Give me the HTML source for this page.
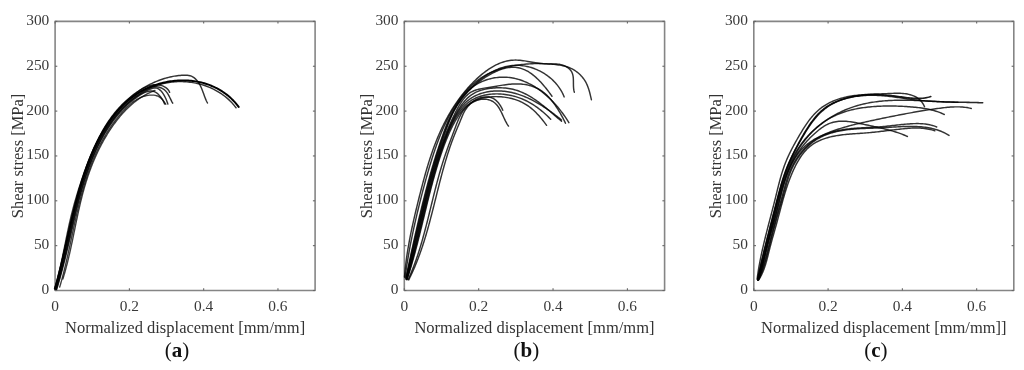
<!DOCTYPE html>
<html><head><meta charset="utf-8"><style>
html,body{margin:0;padding:0;background:#fff;width:1024px;height:370px;overflow:hidden}
svg{display:block;will-change:transform}
.t{font-family:"Liberation Serif", serif;font-size:15.4px;fill:#3a3a3a}
.l{font-family:"Liberation Serif", serif;font-size:16.5px;fill:#333}
.c{font-family:"Liberation Serif", serif;font-size:21px;fill:#111}
</style></head><body>
<svg width="1024" height="370" viewBox="0 0 1024 370">
<rect width="1024" height="370" fill="#fff"/>
<g>
<rect x="55.10" y="21.40" width="260.00" height="269.10" fill="none" stroke="#858585" stroke-width="1.6" stroke-linejoin="round"/>
<line x1="55.10" y1="290.50" x2="57.30" y2="290.50" stroke="#666" stroke-width="1.1"/>
<line x1="315.10" y1="290.50" x2="312.90" y2="290.50" stroke="#666" stroke-width="1.1"/>
<text x="49.30" y="293.90" text-anchor="end" class="t">0</text>
<line x1="55.10" y1="245.65" x2="57.30" y2="245.65" stroke="#666" stroke-width="1.1"/>
<line x1="315.10" y1="245.65" x2="312.90" y2="245.65" stroke="#666" stroke-width="1.1"/>
<text x="49.30" y="249.05" text-anchor="end" class="t">50</text>
<line x1="55.10" y1="200.80" x2="57.30" y2="200.80" stroke="#666" stroke-width="1.1"/>
<line x1="315.10" y1="200.80" x2="312.90" y2="200.80" stroke="#666" stroke-width="1.1"/>
<text x="49.30" y="204.20" text-anchor="end" class="t">100</text>
<line x1="55.10" y1="155.95" x2="57.30" y2="155.95" stroke="#666" stroke-width="1.1"/>
<line x1="315.10" y1="155.95" x2="312.90" y2="155.95" stroke="#666" stroke-width="1.1"/>
<text x="49.30" y="159.35" text-anchor="end" class="t">150</text>
<line x1="55.10" y1="111.10" x2="57.30" y2="111.10" stroke="#666" stroke-width="1.1"/>
<line x1="315.10" y1="111.10" x2="312.90" y2="111.10" stroke="#666" stroke-width="1.1"/>
<text x="49.30" y="114.50" text-anchor="end" class="t">200</text>
<line x1="55.10" y1="66.25" x2="57.30" y2="66.25" stroke="#666" stroke-width="1.1"/>
<line x1="315.10" y1="66.25" x2="312.90" y2="66.25" stroke="#666" stroke-width="1.1"/>
<text x="49.30" y="69.65" text-anchor="end" class="t">250</text>
<line x1="55.10" y1="21.40" x2="57.30" y2="21.40" stroke="#666" stroke-width="1.1"/>
<line x1="315.10" y1="21.40" x2="312.90" y2="21.40" stroke="#666" stroke-width="1.1"/>
<text x="49.30" y="24.80" text-anchor="end" class="t">300</text>
<line x1="55.10" y1="290.50" x2="55.10" y2="288.30" stroke="#666" stroke-width="1.1"/>
<line x1="55.10" y1="21.40" x2="55.10" y2="23.60" stroke="#666" stroke-width="1.1"/>
<text x="55.10" y="310.6" text-anchor="middle" class="t">0</text>
<line x1="129.39" y1="290.50" x2="129.39" y2="288.30" stroke="#666" stroke-width="1.1"/>
<line x1="129.39" y1="21.40" x2="129.39" y2="23.60" stroke="#666" stroke-width="1.1"/>
<text x="129.39" y="310.6" text-anchor="middle" class="t">0.2</text>
<line x1="203.67" y1="290.50" x2="203.67" y2="288.30" stroke="#666" stroke-width="1.1"/>
<line x1="203.67" y1="21.40" x2="203.67" y2="23.60" stroke="#666" stroke-width="1.1"/>
<text x="203.67" y="310.6" text-anchor="middle" class="t">0.4</text>
<line x1="277.96" y1="290.50" x2="277.96" y2="288.30" stroke="#666" stroke-width="1.1"/>
<line x1="277.96" y1="21.40" x2="277.96" y2="23.60" stroke="#666" stroke-width="1.1"/>
<text x="277.96" y="310.6" text-anchor="middle" class="t">0.6</text>
<text x="185.10" y="332.6" text-anchor="middle" class="l">Normalized displacement [mm/mm]</text>
<text transform="translate(22.70,155.95) rotate(-90)" text-anchor="middle" class="l">Shear stress [MPa]</text>
<text x="177.10" y="357" text-anchor="middle" class="c">(<tspan font-weight="bold">a</tspan>)</text>
<rect x="404.30" y="21.40" width="260.30" height="269.10" fill="none" stroke="#858585" stroke-width="1.6" stroke-linejoin="round"/>
<line x1="404.30" y1="290.50" x2="406.50" y2="290.50" stroke="#666" stroke-width="1.1"/>
<line x1="664.60" y1="290.50" x2="662.40" y2="290.50" stroke="#666" stroke-width="1.1"/>
<text x="398.50" y="293.90" text-anchor="end" class="t">0</text>
<line x1="404.30" y1="245.65" x2="406.50" y2="245.65" stroke="#666" stroke-width="1.1"/>
<line x1="664.60" y1="245.65" x2="662.40" y2="245.65" stroke="#666" stroke-width="1.1"/>
<text x="398.50" y="249.05" text-anchor="end" class="t">50</text>
<line x1="404.30" y1="200.80" x2="406.50" y2="200.80" stroke="#666" stroke-width="1.1"/>
<line x1="664.60" y1="200.80" x2="662.40" y2="200.80" stroke="#666" stroke-width="1.1"/>
<text x="398.50" y="204.20" text-anchor="end" class="t">100</text>
<line x1="404.30" y1="155.95" x2="406.50" y2="155.95" stroke="#666" stroke-width="1.1"/>
<line x1="664.60" y1="155.95" x2="662.40" y2="155.95" stroke="#666" stroke-width="1.1"/>
<text x="398.50" y="159.35" text-anchor="end" class="t">150</text>
<line x1="404.30" y1="111.10" x2="406.50" y2="111.10" stroke="#666" stroke-width="1.1"/>
<line x1="664.60" y1="111.10" x2="662.40" y2="111.10" stroke="#666" stroke-width="1.1"/>
<text x="398.50" y="114.50" text-anchor="end" class="t">200</text>
<line x1="404.30" y1="66.25" x2="406.50" y2="66.25" stroke="#666" stroke-width="1.1"/>
<line x1="664.60" y1="66.25" x2="662.40" y2="66.25" stroke="#666" stroke-width="1.1"/>
<text x="398.50" y="69.65" text-anchor="end" class="t">250</text>
<line x1="404.30" y1="21.40" x2="406.50" y2="21.40" stroke="#666" stroke-width="1.1"/>
<line x1="664.60" y1="21.40" x2="662.40" y2="21.40" stroke="#666" stroke-width="1.1"/>
<text x="398.50" y="24.80" text-anchor="end" class="t">300</text>
<line x1="404.30" y1="290.50" x2="404.30" y2="288.30" stroke="#666" stroke-width="1.1"/>
<line x1="404.30" y1="21.40" x2="404.30" y2="23.60" stroke="#666" stroke-width="1.1"/>
<text x="404.30" y="310.6" text-anchor="middle" class="t">0</text>
<line x1="478.67" y1="290.50" x2="478.67" y2="288.30" stroke="#666" stroke-width="1.1"/>
<line x1="478.67" y1="21.40" x2="478.67" y2="23.60" stroke="#666" stroke-width="1.1"/>
<text x="478.67" y="310.6" text-anchor="middle" class="t">0.2</text>
<line x1="553.04" y1="290.50" x2="553.04" y2="288.30" stroke="#666" stroke-width="1.1"/>
<line x1="553.04" y1="21.40" x2="553.04" y2="23.60" stroke="#666" stroke-width="1.1"/>
<text x="553.04" y="310.6" text-anchor="middle" class="t">0.4</text>
<line x1="627.41" y1="290.50" x2="627.41" y2="288.30" stroke="#666" stroke-width="1.1"/>
<line x1="627.41" y1="21.40" x2="627.41" y2="23.60" stroke="#666" stroke-width="1.1"/>
<text x="627.41" y="310.6" text-anchor="middle" class="t">0.6</text>
<text x="534.45" y="332.6" text-anchor="middle" class="l">Normalized displacement [mm/mm]</text>
<text transform="translate(371.90,155.95) rotate(-90)" text-anchor="middle" class="l">Shear stress [MPa]</text>
<text x="526.45" y="357" text-anchor="middle" class="c">(<tspan font-weight="bold">b</tspan>)</text>
<rect x="753.80" y="21.40" width="260.00" height="269.10" fill="none" stroke="#858585" stroke-width="1.6" stroke-linejoin="round"/>
<line x1="753.80" y1="290.50" x2="756.00" y2="290.50" stroke="#666" stroke-width="1.1"/>
<line x1="1013.80" y1="290.50" x2="1011.60" y2="290.50" stroke="#666" stroke-width="1.1"/>
<text x="748.00" y="293.90" text-anchor="end" class="t">0</text>
<line x1="753.80" y1="245.65" x2="756.00" y2="245.65" stroke="#666" stroke-width="1.1"/>
<line x1="1013.80" y1="245.65" x2="1011.60" y2="245.65" stroke="#666" stroke-width="1.1"/>
<text x="748.00" y="249.05" text-anchor="end" class="t">50</text>
<line x1="753.80" y1="200.80" x2="756.00" y2="200.80" stroke="#666" stroke-width="1.1"/>
<line x1="1013.80" y1="200.80" x2="1011.60" y2="200.80" stroke="#666" stroke-width="1.1"/>
<text x="748.00" y="204.20" text-anchor="end" class="t">100</text>
<line x1="753.80" y1="155.95" x2="756.00" y2="155.95" stroke="#666" stroke-width="1.1"/>
<line x1="1013.80" y1="155.95" x2="1011.60" y2="155.95" stroke="#666" stroke-width="1.1"/>
<text x="748.00" y="159.35" text-anchor="end" class="t">150</text>
<line x1="753.80" y1="111.10" x2="756.00" y2="111.10" stroke="#666" stroke-width="1.1"/>
<line x1="1013.80" y1="111.10" x2="1011.60" y2="111.10" stroke="#666" stroke-width="1.1"/>
<text x="748.00" y="114.50" text-anchor="end" class="t">200</text>
<line x1="753.80" y1="66.25" x2="756.00" y2="66.25" stroke="#666" stroke-width="1.1"/>
<line x1="1013.80" y1="66.25" x2="1011.60" y2="66.25" stroke="#666" stroke-width="1.1"/>
<text x="748.00" y="69.65" text-anchor="end" class="t">250</text>
<line x1="753.80" y1="21.40" x2="756.00" y2="21.40" stroke="#666" stroke-width="1.1"/>
<line x1="1013.80" y1="21.40" x2="1011.60" y2="21.40" stroke="#666" stroke-width="1.1"/>
<text x="748.00" y="24.80" text-anchor="end" class="t">300</text>
<line x1="753.80" y1="290.50" x2="753.80" y2="288.30" stroke="#666" stroke-width="1.1"/>
<line x1="753.80" y1="21.40" x2="753.80" y2="23.60" stroke="#666" stroke-width="1.1"/>
<text x="753.80" y="310.6" text-anchor="middle" class="t">0</text>
<line x1="828.09" y1="290.50" x2="828.09" y2="288.30" stroke="#666" stroke-width="1.1"/>
<line x1="828.09" y1="21.40" x2="828.09" y2="23.60" stroke="#666" stroke-width="1.1"/>
<text x="828.09" y="310.6" text-anchor="middle" class="t">0.2</text>
<line x1="902.37" y1="290.50" x2="902.37" y2="288.30" stroke="#666" stroke-width="1.1"/>
<line x1="902.37" y1="21.40" x2="902.37" y2="23.60" stroke="#666" stroke-width="1.1"/>
<text x="902.37" y="310.6" text-anchor="middle" class="t">0.4</text>
<line x1="976.66" y1="290.50" x2="976.66" y2="288.30" stroke="#666" stroke-width="1.1"/>
<line x1="976.66" y1="21.40" x2="976.66" y2="23.60" stroke="#666" stroke-width="1.1"/>
<text x="976.66" y="310.6" text-anchor="middle" class="t">0.6</text>
<text x="883.80" y="332.6" text-anchor="middle" class="l">Normalized displacement [mm/mm]]</text>
<text transform="translate(721.40,155.95) rotate(-90)" text-anchor="middle" class="l">Shear stress [MPa]</text>
<text x="875.80" y="357" text-anchor="middle" class="c">(<tspan font-weight="bold">c</tspan>)</text>
<g fill="none" stroke="#000" stroke-width="1.25" stroke-linejoin="round" stroke-linecap="round">
<path d="M55.14,288.75 L55.55,287.29 L55.95,285.83 L56.35,284.37 L56.75,282.91 L57.14,281.45 L57.52,279.99 L57.91,278.53 L58.28,277.07 L58.66,275.62 L59.03,274.16 L59.40,272.70 L59.76,271.25 L60.12,269.79 L60.48,268.34 L60.83,266.88 L61.18,265.43 L61.53,263.97 L61.87,262.52 L62.22,261.06 L62.56,259.61 L62.90,258.16 L63.24,256.70 L63.57,255.25 L63.90,253.80 L64.24,252.35 L64.57,250.89 L64.90,249.44 L65.23,247.99 L65.55,246.54 L65.88,245.09 L66.21,243.63 L66.53,242.18 L66.86,240.73 L67.19,239.28 L67.51,237.82 L67.84,236.37 L68.16,234.92 L68.49,233.47 L68.82,232.01 L69.15,230.56 L69.48,229.11 L69.81,227.66 L70.14,226.20 L70.47,224.75 L70.81,223.29 L71.14,221.84 L71.48,220.38 L71.82,218.93 L72.16,217.47 L72.51,216.02 L72.85,214.56 L73.20,213.10 L73.56,211.65 L73.91,210.19 L74.27,208.73 L74.63,207.27 L75.00,205.81 L75.37,204.35 L75.74,202.89 L76.12,201.43 L76.50,199.97 L76.88,198.51 L77.27,197.05 L77.66,195.59 L78.06,194.13 L78.46,192.67 L78.87,191.21 L79.28,189.75 L79.70,188.29 L80.13,186.83 L80.55,185.38 L80.99,183.92 L81.43,182.47 L81.87,181.02 L82.33,179.57 L82.79,178.12 L83.25,176.68 L83.72,175.23 L84.20,173.79 L84.69,172.35 L85.18,170.91 L85.68,169.48 L86.18,168.05 L86.70,166.62 L87.22,165.20 L87.75,163.77 L88.29,162.36 L88.83,160.94 L89.39,159.53 L89.95,158.12 L90.52,156.72 L91.10,155.32 L91.69,153.92 L92.29,152.53 L92.89,151.15 L93.51,149.76 L94.14,148.39 L94.77,147.02 L95.42,145.65 L96.07,144.29 L96.74,142.93 L97.41,141.58 L98.10,140.23 L98.79,138.89 L99.50,137.56 L100.22,136.23 L100.95,134.91 L101.69,133.60 L102.44,132.29 L103.20,130.98 L103.98,129.69 L104.76,128.40 L105.56,127.12 L106.37,125.85 L107.19,124.58 L108.03,123.33 L108.87,122.09 L109.73,120.85 L110.61,119.63 L111.49,118.41 L112.39,117.21 L113.30,116.02 L114.23,114.84 L115.17,113.68 L116.12,112.53 L117.09,111.39 L118.07,110.27 L119.06,109.16 L120.07,108.07 L121.09,106.99 L122.13,105.93 L123.19,104.88 L124.25,103.85 L125.34,102.84 L126.44,101.85 L127.55,100.87 L128.68,99.92 L129.82,98.98 L130.99,98.07 L132.16,97.17 L133.36,96.29 L134.57,95.44 L135.79,94.61 L137.03,93.80 L138.29,93.01 L139.57,92.24 L140.85,91.50 L142.16,90.77 L143.47,90.08 L144.80,89.40 L146.15,88.75 L147.50,88.12 L148.87,87.51 L150.25,86.93 L151.63,86.37 L153.03,85.83 L154.44,85.32 L155.86,84.84 L157.28,84.37 L158.72,83.93 L160.16,83.52 L161.61,83.13 L163.06,82.77 L164.52,82.43 L165.99,82.11 L167.46,81.83 L168.93,81.56 L170.41,81.33 L171.90,81.11 L173.38,80.93 L174.87,80.77 L176.36,80.64 L177.85,80.53 L179.34,80.45 L180.83,80.40 L182.32,80.37 L183.81,80.37 L185.30,80.40 L186.79,80.45 L188.27,80.54 L189.75,80.65 L191.23,80.78 L192.70,80.95 L194.17,81.14 L195.64,81.37 L197.10,81.62 L198.55,81.90 L199.99,82.20 L201.43,82.54 L202.86,82.91 L204.29,83.30 L205.70,83.73 L207.11,84.18 L208.50,84.67 L209.88,85.18 L211.26,85.72 L212.62,86.30 L213.97,86.90 L215.31,87.53 L216.63,88.20 L217.95,88.89 L219.24,89.62 L220.53,90.38 L221.79,91.17 L223.05,91.99 L224.28,92.84 L225.50,93.72 L226.71,94.64 L227.89,95.58 L229.06,96.56 L230.21,97.57 L231.34,98.62 L232.45,99.69 L233.53,100.80 L234.60,101.95 L235.65,103.12 L236.67,104.33 L237.68,105.57 L238.66,106.85" stroke-width="1.97" stroke-opacity="1.00"/>
<path d="M55.90,289.01 L56.34,287.61 L56.78,286.20 L57.21,284.80 L57.63,283.39 L58.05,281.97 L58.46,280.55 L58.86,279.13 L59.27,277.71 L59.66,276.28 L60.05,274.85 L60.44,273.41 L60.82,271.97 L61.20,270.53 L61.57,269.09 L61.94,267.64 L62.31,266.19 L62.67,264.74 L63.03,263.29 L63.38,261.83 L63.74,260.37 L64.09,258.91 L64.43,257.45 L64.78,255.99 L65.12,254.52 L65.46,253.05 L65.79,251.58 L66.13,250.11 L66.46,248.64 L66.80,247.16 L67.13,245.69 L67.46,244.21 L67.78,242.73 L68.11,241.25 L68.44,239.77 L68.77,238.29 L69.09,236.81 L69.42,235.33 L69.74,233.85 L70.07,232.36 L70.40,230.88 L70.72,229.40 L71.05,227.91 L71.38,226.43 L71.71,224.94 L72.04,223.46 L72.37,221.98 L72.70,220.49 L73.04,219.01 L73.37,217.53 L73.71,216.05 L74.06,214.56 L74.40,213.08 L74.74,211.61 L75.09,210.13 L75.45,208.65 L75.80,207.17 L76.16,205.70 L76.52,204.22 L76.89,202.75 L77.25,201.28 L77.63,199.81 L78.00,198.35 L78.39,196.88 L78.77,195.42 L79.16,193.96 L79.56,192.50 L79.96,191.04 L80.36,189.58 L80.77,188.13 L81.19,186.68 L81.61,185.23 L82.04,183.79 L82.47,182.35 L82.91,180.91 L83.36,179.47 L83.81,178.04 L84.27,176.61 L84.74,175.18 L85.21,173.76 L85.69,172.34 L86.18,170.92 L86.67,169.51 L87.18,168.10 L87.69,166.69 L88.21,165.29 L88.73,163.90 L89.27,162.50 L89.81,161.11 L90.37,159.73 L90.93,158.35 L91.50,156.97 L92.08,155.60 L92.67,154.23 L93.27,152.87 L93.88,151.51 L94.50,150.16 L95.12,148.81 L95.76,147.47 L96.41,146.13 L97.07,144.80 L97.75,143.48 L98.43,142.16 L99.12,140.84 L99.83,139.53 L100.54,138.23 L101.27,136.93 L102.01,135.64 L102.76,134.35 L103.53,133.07 L104.30,131.80 L105.09,130.53 L105.89,129.27 L106.71,128.02 L107.53,126.77 L108.37,125.53 L109.23,124.30 L110.10,123.07 L110.98,121.85 L111.87,120.64 L112.78,119.43 L113.71,118.24 L114.64,117.05 L115.59,115.87 L116.56,114.70 L117.54,113.54 L118.53,112.40 L119.54,111.26 L120.55,110.14 L121.59,109.03 L122.64,107.93 L123.70,106.85 L124.77,105.78 L125.86,104.73 L126.96,103.69 L128.07,102.67 L129.20,101.67 L130.34,100.69 L131.50,99.72 L132.67,98.78 L133.85,97.85 L135.04,96.94 L136.25,96.06 L137.47,95.19 L138.71,94.35 L139.95,93.54 L141.22,92.74 L142.49,91.97 L143.78,91.23 L145.07,90.50 L146.39,89.81 L147.71,89.14 L149.05,88.50 L150.40,87.89 L151.77,87.30 L153.14,86.75 L154.53,86.22 L155.92,85.72 L157.33,85.24 L158.75,84.80 L160.17,84.38 L161.60,83.99 L163.05,83.63 L164.50,83.30 L165.95,83.00 L167.42,82.73 L168.89,82.48 L170.36,82.27 L171.84,82.08 L173.33,81.93 L174.82,81.80 L176.31,81.70 L177.81,81.63 L179.31,81.60 L180.81,81.59 L182.32,81.61 L183.82,81.66 L185.32,81.75 L186.83,81.86 L188.33,82.00 L189.83,82.17 L191.33,82.37 L192.82,82.60 L194.31,82.86 L195.79,83.15 L197.27,83.47 L198.74,83.82 L200.20,84.20 L201.66,84.61 L203.10,85.04 L204.54,85.51 L205.97,86.01 L207.38,86.53 L208.79,87.08 L210.18,87.67 L211.55,88.28 L212.92,88.92 L214.26,89.59 L215.59,90.29 L216.91,91.02 L218.21,91.78 L219.49,92.56 L220.75,93.38 L221.99,94.22 L223.21,95.10 L224.42,96.00 L225.60,96.93 L226.75,97.89 L227.89,98.87 L229.00,99.89 L230.08,100.93 L231.14,102.01 L232.17,103.11 L233.18,104.24 L234.16,105.40 L235.11,106.58 L236.03,107.80" stroke-width="1.45" stroke-opacity="0.80"/>
<path d="M54.56,288.56 L55.01,287.07 L55.45,285.59 L55.88,284.11 L56.30,282.63 L56.71,281.15 L57.12,279.68 L57.51,278.21 L57.89,276.74 L58.27,275.27 L58.64,273.80 L59.01,272.34 L59.36,270.88 L59.71,269.42 L60.06,267.96 L60.39,266.50 L60.73,265.04 L61.05,263.59 L61.38,262.13 L61.70,260.68 L62.01,259.23 L62.32,257.78 L62.63,256.33 L62.93,254.88 L63.23,253.43 L63.53,251.99 L63.83,250.54 L64.12,249.09 L64.42,247.65 L64.71,246.20 L65.00,244.75 L65.29,243.31 L65.59,241.86 L65.88,240.42 L66.17,238.97 L66.47,237.52 L66.76,236.08 L67.06,234.63 L67.36,233.18 L67.66,231.73 L67.97,230.29 L68.27,228.84 L68.59,227.39 L68.90,225.93 L69.22,224.48 L69.55,223.03 L69.88,221.57 L70.21,220.12 L70.55,218.66 L70.90,217.20 L71.25,215.74 L71.61,214.28 L71.97,212.81 L72.35,211.35 L72.72,209.88 L73.11,208.41 L73.50,206.95 L73.90,205.48 L74.30,204.01 L74.71,202.54 L75.13,201.06 L75.55,199.59 L75.97,198.12 L76.41,196.65 L76.84,195.18 L77.29,193.71 L77.73,192.24 L78.19,190.77 L78.64,189.31 L79.11,187.84 L79.57,186.37 L80.04,184.91 L80.52,183.45 L81.00,181.99 L81.48,180.53 L81.97,179.07 L82.47,177.62 L82.96,176.17 L83.46,174.72 L83.97,173.27 L84.48,171.83 L85.00,170.39 L85.52,168.96 L86.05,167.52 L86.58,166.09 L87.12,164.67 L87.66,163.24 L88.21,161.83 L88.76,160.41 L89.32,159.00 L89.88,157.60 L90.46,156.20 L91.03,154.80 L91.62,153.41 L92.20,152.03 L92.80,150.65 L93.40,149.27 L94.01,147.90 L94.63,146.54 L95.25,145.19 L95.88,143.84 L96.52,142.49 L97.17,141.15 L97.82,139.82 L98.48,138.50 L99.16,137.18 L99.84,135.87 L100.53,134.57 L101.23,133.27 L101.94,131.98 L102.66,130.71 L103.40,129.43 L104.14,128.17 L104.90,126.91 L105.67,125.67 L106.45,124.43 L107.24,123.20 L108.04,121.98 L108.86,120.77 L109.69,119.56 L110.54,118.37 L111.40,117.19 L112.27,116.01 L113.16,114.85 L114.07,113.69 L114.99,112.55 L115.92,111.42 L116.87,110.29 L117.84,109.18 L118.83,108.08 L119.83,106.99 L120.85,105.91 L121.88,104.84 L122.94,103.79 L124.01,102.74 L125.10,101.71 L126.21,100.69 L127.34,99.68 L128.48,98.69 L129.65,97.70 L130.83,96.74 L132.02,95.78 L133.24,94.84 L134.47,93.92 L135.71,93.01 L136.97,92.12 L138.24,91.25 L139.53,90.39 L140.83,89.55 L142.14,88.73 L143.46,87.93 L144.79,87.15 L146.14,86.39 L147.49,85.64 L148.85,84.92 L150.23,84.22 L151.61,83.55 L153.00,82.89 L154.39,82.26 L155.79,81.65 L157.20,81.07 L158.62,80.51 L160.04,79.98 L161.47,79.47 L162.89,78.99 L164.33,78.53 L165.76,78.10 L167.20,77.70 L168.64,77.33 L170.08,76.99 L171.53,76.67 L172.97,76.38 L174.41,76.13 L175.86,75.91 L177.30,75.71 L178.74,75.55 L180.17,75.42 L181.61,75.33 L183.04,75.26 L184.47,75.23 L185.89,75.24 L187.30,75.30 L188.70,75.45 L190.07,75.72 L191.41,76.16 L192.70,76.80 L193.95,77.63 L195.14,78.62 L196.26,79.75 L197.30,80.97 L198.27,82.27 L199.14,83.61 L199.94,84.98 L200.66,86.38 L201.32,87.80 L201.93,89.24 L202.51,90.68 L203.05,92.13 L203.57,93.57 L204.08,95.00 L204.59,96.41 L205.11,97.80 L205.65,99.16 L206.22,100.48 L206.83,101.76 L207.49,103.00" stroke-width="1.45" stroke-opacity="0.80"/>
<path d="M56.70,289.34 L57.13,287.89 L57.55,286.44 L57.97,284.99 L58.39,283.54 L58.80,282.09 L59.22,280.63 L59.63,279.18 L60.03,277.73 L60.44,276.27 L60.84,274.81 L61.24,273.36 L61.63,271.90 L62.02,270.44 L62.41,268.98 L62.80,267.52 L63.19,266.06 L63.57,264.60 L63.95,263.13 L64.32,261.67 L64.70,260.21 L65.07,258.74 L65.44,257.28 L65.80,255.81 L66.17,254.35 L66.53,252.88 L66.88,251.42 L67.24,249.95 L67.59,248.49 L67.94,247.02 L68.29,245.55 L68.64,244.09 L68.98,242.62 L69.32,241.15 L69.66,239.69 L70.00,238.22 L70.34,236.75 L70.67,235.28 L71.01,233.82 L71.34,232.35 L71.68,230.88 L72.01,229.42 L72.34,227.95 L72.67,226.49 L73.01,225.02 L73.34,223.56 L73.67,222.09 L74.01,220.63 L74.35,219.16 L74.68,217.70 L75.02,216.24 L75.36,214.78 L75.71,213.31 L76.05,211.85 L76.40,210.39 L76.75,208.93 L77.10,207.47 L77.46,206.02 L77.82,204.56 L78.18,203.10 L78.55,201.65 L78.92,200.19 L79.30,198.74 L79.68,197.29 L80.06,195.83 L80.45,194.38 L80.84,192.93 L81.24,191.48 L81.65,190.04 L82.06,188.59 L82.47,187.15 L82.90,185.70 L83.32,184.26 L83.76,182.82 L84.20,181.38 L84.65,179.94 L85.10,178.50 L85.57,177.07 L86.04,175.63 L86.52,174.20 L87.00,172.77 L87.50,171.34 L88.00,169.91 L88.51,168.49 L89.03,167.06 L89.56,165.64 L90.10,164.22 L90.65,162.80 L91.21,161.38 L91.78,159.97 L92.35,158.56 L92.94,157.15 L93.54,155.75 L94.14,154.35 L94.76,152.95 L95.39,151.56 L96.02,150.18 L96.67,148.79 L97.33,147.42 L98.00,146.05 L98.67,144.68 L99.36,143.32 L100.06,141.97 L100.77,140.62 L101.50,139.28 L102.23,137.95 L102.97,136.62 L103.73,135.30 L104.50,133.99 L105.28,132.69 L106.07,131.40 L106.87,130.11 L107.68,128.84 L108.51,127.57 L109.34,126.31 L110.19,125.06 L111.06,123.82 L111.93,122.60 L112.82,121.38 L113.72,120.17 L114.63,118.98 L115.56,117.79 L116.49,116.62 L117.45,115.46 L118.41,114.31 L119.39,113.18 L120.39,112.05 L121.40,110.94 L122.43,109.85 L123.47,108.76 L124.53,107.69 L125.60,106.64 L126.69,105.59 L127.80,104.57 L128.92,103.55 L130.06,102.56 L131.22,101.57 L132.40,100.61 L133.60,99.66 L134.81,98.72 L136.05,97.80 L137.30,96.90 L138.57,96.02 L139.86,95.17 L141.16,94.36 L142.47,93.61 L143.79,92.93 L145.11,92.34 L146.43,91.83 L147.74,91.44 L149.05,91.17 L150.35,91.04 L151.64,91.05 L152.91,91.22 L154.16,91.57 L155.39,92.11 L156.60,92.84 L157.77,93.79 L158.91,94.92 L160.02,96.20 L161.08,97.56 L162.11,98.98 L163.09,100.38 L164.02,101.74 L164.89,103.00 L165.72,104.11" stroke-width="1.45" stroke-opacity="0.80"/>
<path d="M56.31,289.19 L56.74,287.75 L57.18,286.30 L57.60,284.85 L58.02,283.41 L58.44,281.96 L58.85,280.50 L59.26,279.05 L59.66,277.60 L60.05,276.15 L60.44,274.69 L60.83,273.24 L61.21,271.78 L61.59,270.33 L61.97,268.87 L62.34,267.41 L62.71,265.96 L63.07,264.50 L63.43,263.04 L63.79,261.58 L64.15,260.12 L64.50,258.66 L64.85,257.20 L65.20,255.74 L65.54,254.28 L65.89,252.82 L66.23,251.36 L66.57,249.89 L66.91,248.43 L67.25,246.97 L67.58,245.51 L67.92,244.05 L68.25,242.59 L68.58,241.12 L68.92,239.66 L69.25,238.20 L69.58,236.74 L69.91,235.28 L70.24,233.82 L70.58,232.36 L70.91,230.90 L71.24,229.44 L71.58,227.98 L71.91,226.52 L72.25,225.06 L72.59,223.60 L72.93,222.14 L73.27,220.69 L73.61,219.23 L73.95,217.77 L74.30,216.32 L74.65,214.86 L75.00,213.41 L75.35,211.96 L75.71,210.51 L76.07,209.05 L76.43,207.60 L76.79,206.15 L77.16,204.71 L77.54,203.26 L77.91,201.81 L78.29,200.37 L78.68,198.92 L79.06,197.48 L79.46,196.03 L79.85,194.59 L80.26,193.15 L80.66,191.72 L81.07,190.28 L81.49,188.84 L81.91,187.41 L82.34,185.97 L82.78,184.54 L83.22,183.11 L83.66,181.68 L84.11,180.26 L84.57,178.83 L85.04,177.41 L85.51,175.98 L85.99,174.56 L86.47,173.15 L86.96,171.73 L87.46,170.31 L87.97,168.90 L88.49,167.49 L89.01,166.08 L89.54,164.67 L90.08,163.26 L90.63,161.86 L91.18,160.46 L91.75,159.06 L92.32,157.66 L92.90,156.27 L93.50,154.87 L94.10,153.48 L94.71,152.09 L95.33,150.71 L95.96,149.32 L96.60,147.94 L97.25,146.56 L97.91,145.19 L98.58,143.82 L99.26,142.45 L99.95,141.09 L100.65,139.73 L101.37,138.38 L102.09,137.04 L102.83,135.70 L103.58,134.37 L104.33,133.05 L105.11,131.73 L105.89,130.42 L106.68,129.12 L107.49,127.83 L108.31,126.55 L109.14,125.28 L109.98,124.02 L110.84,122.78 L111.70,121.54 L112.58,120.31 L113.48,119.10 L114.39,117.90 L115.31,116.71 L116.24,115.54 L117.19,114.38 L118.15,113.23 L119.12,112.10 L120.11,110.98 L121.12,109.88 L122.13,108.80 L123.17,107.73 L124.21,106.68 L125.27,105.65 L126.35,104.63 L127.44,103.63 L128.55,102.65 L129.67,101.69 L130.80,100.75 L131.95,99.83 L133.12,98.93 L134.30,98.05 L135.50,97.20 L136.72,96.36 L137.95,95.54 L139.20,94.75 L140.46,93.98 L141.74,93.24 L143.04,92.52 L144.35,91.82 L145.68,91.15 L147.03,90.50 L148.40,89.88 L149.78,89.29 L151.17,88.76 L152.56,88.34 L153.94,88.07 L155.31,87.99 L156.64,88.15 L157.94,88.60 L159.19,89.34 L160.39,90.32 L161.52,91.52 L162.58,92.88 L163.55,94.37 L164.45,95.92 L165.26,97.50 L165.98,99.05 L166.61,100.54 L167.14,101.90 L167.57,103.11 L167.89,104.10" stroke-width="1.45" stroke-opacity="0.80"/>
<path d="M55.48,288.88 L55.88,287.43 L56.29,285.98 L56.69,284.52 L57.08,283.07 L57.48,281.61 L57.86,280.15 L58.25,278.70 L58.63,277.24 L59.00,275.78 L59.38,274.32 L59.75,272.86 L60.11,271.40 L60.47,269.94 L60.83,268.48 L61.19,267.02 L61.55,265.56 L61.90,264.10 L62.25,262.64 L62.60,261.17 L62.94,259.71 L63.29,258.25 L63.63,256.79 L63.97,255.32 L64.31,253.86 L64.65,252.40 L64.99,250.93 L65.32,249.47 L65.66,248.01 L65.99,246.54 L66.33,245.08 L66.66,243.62 L66.99,242.16 L67.32,240.69 L67.66,239.23 L67.99,237.77 L68.32,236.30 L68.66,234.84 L68.99,233.38 L69.33,231.92 L69.66,230.46 L70.00,229.00 L70.34,227.54 L70.68,226.08 L71.02,224.62 L71.36,223.16 L71.70,221.70 L72.05,220.24 L72.39,218.78 L72.74,217.33 L73.10,215.87 L73.45,214.41 L73.81,212.96 L74.17,211.50 L74.53,210.05 L74.90,208.60 L75.26,207.14 L75.64,205.69 L76.01,204.24 L76.39,202.79 L76.77,201.34 L77.16,199.89 L77.55,198.45 L77.94,197.00 L78.34,195.55 L78.75,194.11 L79.15,192.66 L79.57,191.22 L79.98,189.78 L80.41,188.34 L80.83,186.90 L81.27,185.46 L81.70,184.03 L82.15,182.59 L82.60,181.16 L83.05,179.72 L83.51,178.29 L83.98,176.86 L84.45,175.43 L84.93,174.00 L85.42,172.58 L85.91,171.15 L86.41,169.73 L86.92,168.31 L87.44,166.88 L87.96,165.47 L88.49,164.05 L89.02,162.63 L89.57,161.22 L90.12,159.81 L90.68,158.40 L91.25,156.99 L91.83,155.59 L92.41,154.19 L93.01,152.80 L93.61,151.41 L94.22,150.02 L94.84,148.64 L95.48,147.26 L96.12,145.89 L96.77,144.52 L97.43,143.16 L98.10,141.80 L98.78,140.45 L99.48,139.11 L100.18,137.77 L100.89,136.44 L101.62,135.11 L102.35,133.80 L103.10,132.49 L103.86,131.19 L104.63,129.89 L105.42,128.61 L106.21,127.33 L107.02,126.06 L107.84,124.80 L108.67,123.55 L109.52,122.31 L110.38,121.08 L111.25,119.86 L112.13,118.65 L113.03,117.45 L113.94,116.26 L114.87,115.09 L115.81,113.92 L116.76,112.77 L117.73,111.62 L118.71,110.49 L119.71,109.37 L120.73,108.27 L121.75,107.17 L122.80,106.09 L123.85,105.03 L124.93,103.97 L126.02,102.94 L127.12,101.91 L128.25,100.90 L129.38,99.90 L130.54,98.92 L131.71,97.96 L132.90,97.00 L134.10,96.07 L135.32,95.15 L136.56,94.25 L137.82,93.36 L139.09,92.51 L140.38,91.69 L141.68,90.91 L142.99,90.18 L144.32,89.49 L145.65,88.87 L147.00,88.32 L148.35,87.83 L149.71,87.43 L151.08,87.10 L152.45,86.87 L153.83,86.74 L155.22,86.71 L156.60,86.79 L157.99,86.99 L159.38,87.31 L160.77,87.76 L162.13,88.34 L163.42,89.07 L164.60,89.95 L165.67,90.96 L166.63,92.10 L167.50,93.34 L168.31,94.66 L169.06,96.04 L169.78,97.47 L170.49,98.92 L171.20,100.38 L171.93,101.82 L172.70,103.22" stroke-width="1.45" stroke-opacity="0.80"/>
<path d="M54.98,288.70 L55.37,287.24 L55.76,285.79 L56.14,284.33 L56.52,282.87 L56.89,281.41 L57.27,279.96 L57.64,278.50 L58.00,277.04 L58.37,275.58 L58.73,274.12 L59.08,272.66 L59.44,271.20 L59.79,269.74 L60.14,268.28 L60.49,266.82 L60.84,265.36 L61.18,263.90 L61.52,262.44 L61.87,260.97 L62.21,259.51 L62.54,258.05 L62.88,256.59 L63.22,255.13 L63.55,253.67 L63.88,252.21 L64.22,250.74 L64.55,249.28 L64.88,247.82 L65.21,246.36 L65.54,244.90 L65.88,243.44 L66.21,241.98 L66.54,240.52 L66.87,239.06 L67.20,237.60 L67.54,236.14 L67.87,234.68 L68.20,233.22 L68.54,231.76 L68.88,230.31 L69.21,228.85 L69.55,227.39 L69.89,225.93 L70.23,224.48 L70.58,223.02 L70.92,221.57 L71.27,220.11 L71.62,218.66 L71.97,217.21 L72.33,215.75 L72.68,214.30 L73.04,212.85 L73.40,211.40 L73.77,209.95 L74.14,208.50 L74.51,207.05 L74.88,205.60 L75.26,204.16 L75.64,202.71 L76.03,201.27 L76.41,199.82 L76.81,198.38 L77.20,196.94 L77.61,195.50 L78.01,194.06 L78.42,192.62 L78.83,191.18 L79.25,189.74 L79.68,188.30 L80.11,186.87 L80.54,185.44 L80.98,184.00 L81.42,182.57 L81.87,181.14 L82.33,179.71 L82.79,178.28 L83.26,176.86 L83.73,175.43 L84.21,174.01 L84.70,172.59 L85.19,171.17 L85.69,169.75 L86.19,168.33 L86.70,166.91 L87.22,165.49 L87.75,164.08 L88.28,162.67 L88.82,161.26 L89.37,159.85 L89.92,158.45 L90.49,157.04 L91.06,155.64 L91.64,154.25 L92.23,152.85 L92.83,151.47 L93.43,150.08 L94.05,148.70 L94.67,147.32 L95.31,145.95 L95.95,144.58 L96.60,143.22 L97.27,141.86 L97.94,140.51 L98.62,139.17 L99.32,137.83 L100.02,136.49 L100.74,135.17 L101.46,133.85 L102.20,132.53 L102.95,131.23 L103.71,129.93 L104.48,128.64 L105.27,127.36 L106.07,126.08 L106.87,124.82 L107.70,123.56 L108.53,122.31 L109.38,121.07 L110.24,119.84 L111.11,118.62 L111.99,117.41 L112.89,116.21 L113.81,115.02 L114.73,113.84 L115.68,112.67 L116.63,111.51 L117.60,110.37 L118.59,109.23 L119.59,108.11 L120.60,107.00 L121.63,105.90 L122.67,104.81 L123.73,103.74 L124.81,102.68 L125.90,101.63 L127.01,100.59 L128.14,99.57 L129.28,98.56 L130.43,97.57 L131.61,96.59 L132.80,95.63 L134.01,94.68 L135.23,93.74 L136.48,92.83 L137.73,91.93 L139.01,91.06 L140.30,90.22 L141.60,89.42 L142.91,88.67 L144.23,87.96 L145.56,87.31 L146.90,86.71 L148.25,86.18 L149.60,85.72 L150.96,85.34 L152.32,85.04 L153.69,84.82 L155.05,84.70 L156.42,84.67 L157.78,84.75 L159.14,84.93 L160.50,85.23 L161.86,85.65 L163.21,86.19 L164.55,86.86 L165.85,87.67 L167.07,88.62 L168.14,89.72 L169.00,90.96 L169.61,92.37" stroke-width="1.45" stroke-opacity="0.80"/>
<path d="M59.69,287.06 L60.11,285.62 L60.52,284.19 L60.93,282.75 L61.33,281.31 L61.73,279.87 L62.12,278.43 L62.50,276.98 L62.88,275.54 L63.26,274.09 L63.63,272.64 L64.00,271.19 L64.36,269.73 L64.72,268.28 L65.07,266.82 L65.42,265.36 L65.77,263.90 L66.11,262.44 L66.45,260.98 L66.79,259.51 L67.12,258.05 L67.45,256.58 L67.78,255.11 L68.11,253.65 L68.44,252.18 L68.76,250.71 L69.08,249.24 L69.40,247.77 L69.72,246.30 L70.03,244.82 L70.35,243.35 L70.66,241.88 L70.98,240.41 L71.29,238.93 L71.61,237.46 L71.92,235.99 L72.23,234.51 L72.55,233.04 L72.86,231.57 L73.18,230.09 L73.49,228.62 L73.81,227.15 L74.13,225.68 L74.45,224.21 L74.77,222.73 L75.09,221.26 L75.41,219.79 L75.74,218.33 L76.07,216.86 L76.40,215.39 L76.73,213.92 L77.07,212.46 L77.41,211.00 L77.75,209.53 L78.10,208.07 L78.45,206.61 L78.80,205.15 L79.16,203.70 L79.52,202.24 L79.88,200.79 L80.25,199.33 L80.63,197.88 L81.01,196.43 L81.39,194.99 L81.78,193.54 L82.18,192.10 L82.58,190.66 L82.98,189.22 L83.39,187.78 L83.81,186.34 L84.24,184.91 L84.67,183.48 L85.10,182.06 L85.55,180.63 L86.00,179.21 L86.46,177.79 L86.92,176.37 L87.40,174.96 L87.88,173.55 L88.37,172.14 L88.86,170.73 L89.37,169.33 L89.88,167.93 L90.41,166.54 L90.94,165.15 L91.48,163.76 L92.03,162.37 L92.59,160.99 L93.15,159.61 L93.73,158.24 L94.32,156.87 L94.92,155.50 L95.53,154.14 L96.15,152.78 L96.77,151.42 L97.41,150.07 L98.07,148.72 L98.73,147.38 L99.40,146.04 L100.09,144.71 L100.78,143.38 L101.49,142.06 L102.21,140.74 L102.94,139.43 L103.68,138.12 L104.43,136.82 L105.20,135.53 L105.98,134.24 L106.77,132.96 L107.57,131.68 L108.38,130.41 L109.21,129.15 L110.05,127.89 L110.90,126.64 L111.77,125.40 L112.64,124.17 L113.53,122.94 L114.43,121.73 L115.35,120.52 L116.28,119.32 L117.22,118.12 L118.18,116.94 L119.14,115.76 L120.13,114.60 L121.12,113.44 L122.13,112.29 L123.16,111.15 L124.19,110.03 L125.25,108.92 L126.32,107.83 L127.41,106.77 L128.52,105.73 L129.64,104.72 L130.79,103.75 L131.96,102.81 L133.15,101.90 L134.37,101.04 L135.61,100.22 L136.87,99.45 L138.16,98.73 L139.48,98.06 L140.83,97.45 L142.20,96.90 L143.61,96.41 L145.04,95.98 L146.50,95.63 L147.99,95.35 L149.48,95.16 L150.96,95.06 L152.43,95.06 L153.88,95.17 L155.29,95.39 L156.65,95.74 L157.96,96.23 L159.19,96.85 L160.34,97.62 L161.40,98.55 L162.36,99.64 L163.21,100.91 L163.92,102.35 L164.51,103.99" stroke-width="1.36" stroke-opacity="0.76"/>
<path d="M62.87,279.04 L63.32,277.59 L63.75,276.14 L64.18,274.68 L64.60,273.23 L65.02,271.77 L65.42,270.31 L65.82,268.86 L66.21,267.40 L66.59,265.94 L66.97,264.48 L67.34,263.02 L67.70,261.55 L68.06,260.09 L68.42,258.63 L68.76,257.16 L69.11,255.70 L69.45,254.23 L69.78,252.77 L70.11,251.30 L70.44,249.83 L70.76,248.37 L71.08,246.90 L71.39,245.43 L71.70,243.96 L72.02,242.49 L72.32,241.02 L72.63,239.55 L72.93,238.08 L73.24,236.62 L73.54,235.15 L73.84,233.68 L74.14,232.21 L74.44,230.74 L74.74,229.27 L75.04,227.80 L75.34,226.33 L75.64,224.86 L75.94,223.39 L76.25,221.93 L76.55,220.46 L76.86,218.99 L77.17,217.53 L77.48,216.06 L77.79,214.59 L78.11,213.13 L78.43,211.66 L78.75,210.20 L79.08,208.74 L79.41,207.28 L79.74,205.81 L80.08,204.35 L80.42,202.89 L80.77,201.44 L81.13,199.98 L81.49,198.52 L81.86,197.06 L82.23,195.61 L82.61,194.16 L82.99,192.70 L83.38,191.25 L83.78,189.80 L84.19,188.35 L84.60,186.91 L85.03,185.46 L85.46,184.02 L85.90,182.57 L86.35,181.13 L86.80,179.69 L87.27,178.25 L87.74,176.82 L88.23,175.38 L88.72,173.95 L89.22,172.52 L89.73,171.10 L90.26,169.67 L90.79,168.25 L91.32,166.84 L91.87,165.42 L92.43,164.01 L93.00,162.61 L93.58,161.21 L94.17,159.81 L94.76,158.42 L95.37,157.03 L95.99,155.64 L96.62,154.26 L97.25,152.89 L97.90,151.52 L98.56,150.15 L99.23,148.79 L99.91,147.44 L100.60,146.09 L101.30,144.75 L102.01,143.41 L102.73,142.08 L103.46,140.76 L104.20,139.44 L104.96,138.13 L105.72,136.83 L106.50,135.53 L107.28,134.24 L108.08,132.96 L108.89,131.69 L109.71,130.42 L110.55,129.16 L111.39,127.91 L112.24,126.67 L113.11,125.44 L113.99,124.21 L114.88,122.99 L115.78,121.79 L116.70,120.59 L117.62,119.40 L118.56,118.22 L119.52,117.06 L120.48,115.90 L121.46,114.76 L122.45,113.64 L123.45,112.52 L124.47,111.42 L125.51,110.34 L126.55,109.27 L127.61,108.22 L128.69,107.18 L129.78,106.16 L130.88,105.17 L132.00,104.19 L133.14,103.22 L134.29,102.28 L135.46,101.36 L136.64,100.46 L137.84,99.59 L139.05,98.73 L140.28,97.90 L141.53,97.09 L142.80,96.31 L144.08,95.55 L145.38,94.82 L146.70,94.11 L148.03,93.44 L149.39,92.78 L150.76,92.16 L152.15,91.57 L153.56,91.00 L154.98,90.46" stroke-width="1.36" stroke-opacity="0.76"/>
<path d="M404.50,276.97 L404.61,275.51 L404.73,274.05 L404.86,272.58 L404.99,271.11 L405.14,269.65 L405.29,268.18 L405.45,266.71 L405.62,265.23 L405.80,263.76 L405.98,262.29 L406.17,260.81 L406.37,259.34 L406.57,257.86 L406.78,256.39 L407.00,254.91 L407.22,253.43 L407.46,251.95 L407.69,250.47 L407.94,248.99 L408.18,247.51 L408.44,246.03 L408.70,244.55 L408.97,243.07 L409.24,241.59 L409.51,240.10 L409.80,238.62 L410.08,237.14 L410.37,235.66 L410.67,234.18 L410.97,232.69 L411.28,231.21 L411.59,229.73 L411.90,228.25 L412.22,226.77 L412.54,225.29 L412.86,223.80 L413.19,222.32 L413.52,220.84 L413.86,219.36 L414.20,217.88 L414.54,216.41 L414.88,214.93 L415.23,213.45 L415.58,211.97 L415.93,210.50 L416.28,209.02 L416.64,207.55 L417.00,206.08 L417.36,204.60 L417.72,203.13 L418.08,201.66 L418.45,200.19 L418.81,198.73 L419.18,197.26 L419.55,195.79 L419.92,194.33 L420.29,192.87 L420.66,191.41 L421.03,189.95 L421.41,188.49 L421.79,187.03 L422.17,185.58 L422.55,184.12 L422.93,182.67 L423.32,181.22 L423.71,179.77 L424.10,178.32 L424.50,176.88 L424.90,175.44 L425.31,174.00 L425.71,172.56 L426.13,171.12 L426.54,169.69 L426.96,168.26 L427.39,166.83 L427.82,165.40 L428.25,163.97 L428.69,162.55 L429.14,161.13 L429.59,159.71 L430.05,158.30 L430.51,156.88 L430.98,155.47 L431.46,154.07 L431.94,152.66 L432.43,151.26 L432.93,149.86 L433.43,148.46 L433.94,147.07 L434.46,145.68 L434.99,144.29 L435.52,142.91 L436.06,141.53 L436.61,140.15 L437.17,138.77 L437.74,137.40 L438.32,136.04 L438.90,134.67 L439.50,133.31 L440.10,131.95 L440.71,130.60 L441.34,129.25 L441.97,127.90 L442.61,126.56 L443.27,125.22 L443.93,123.88 L444.60,122.55 L445.29,121.22 L445.99,119.90 L446.70,118.58 L447.42,117.26 L448.15,115.95 L448.89,114.64 L449.64,113.34 L450.41,112.04 L451.19,110.74 L451.98,109.46 L452.78,108.18 L453.59,106.90 L454.42,105.63 L455.26,104.37 L456.11,103.11 L456.97,101.86 L457.84,100.62 L458.72,99.39 L459.62,98.17 L460.53,96.95 L461.45,95.75 L462.38,94.55 L463.33,93.36 L464.28,92.18 L465.25,91.01 L466.23,89.85 L467.22,88.71 L468.23,87.57 L469.25,86.44 L470.27,85.33 L471.32,84.23 L472.37,83.14 L473.43,82.06 L474.51,80.99 L475.60,79.94 L476.70,78.90 L477.82,77.88 L478.94,76.87 L480.08,75.87 L481.23,74.89 L482.40,73.93 L483.57,72.99 L484.76,72.07 L485.96,71.17 L487.17,70.29 L488.40,69.44 L489.64,68.62 L490.89,67.83 L492.15,67.07 L493.42,66.33 L494.71,65.63 L496.01,64.97 L497.33,64.34 L498.65,63.75 L499.99,63.19 L501.34,62.68 L502.70,62.21 L504.08,61.78 L505.46,61.40 L506.87,61.06 L508.28,60.77 L509.70,60.53 L511.14,60.34 L512.60,60.20 L514.06,60.12 L515.54,60.09 L517.03,60.12 L518.53,60.19 L520.04,60.32 L521.56,60.48 L523.09,60.68 L524.63,60.90 L526.17,61.15 L527.72,61.41 L529.27,61.69 L530.83,61.97 L532.38,62.25 L533.94,62.53 L535.50,62.80 L537.05,63.05 L538.60,63.28 L540.15,63.48 L541.70,63.65 L543.23,63.78 L544.76,63.86 L546.29,63.90 L547.80,63.92 L549.30,63.92 L550.79,63.90 L552.27,63.90 L553.74,63.91 L555.19,63.94 L556.62,64.02 L558.04,64.14 L559.44,64.33 L560.82,64.59 L562.17,64.93 L563.51,65.36 L564.83,65.91 L566.12,66.57 L567.36,67.34 L568.54,68.22 L569.62,69.20 L570.59,70.27 L571.41,71.42 L572.07,72.65 L572.57,73.95 L572.92,75.32 L573.16,76.73 L573.31,78.19 L573.38,79.69 L573.41,81.22 L573.42,82.78 L573.43,84.35 L573.46,85.94 L573.54,87.52 L573.69,89.10 L573.94,90.66 L574.30,92.21" stroke-width="1.45" stroke-opacity="0.80"/>
<path d="M405.11,277.49 L405.30,276.01 L405.50,274.54 L405.70,273.06 L405.90,271.59 L406.11,270.11 L406.33,268.63 L406.55,267.16 L406.77,265.68 L407.00,264.20 L407.23,262.72 L407.47,261.24 L407.71,259.76 L407.96,258.29 L408.21,256.81 L408.46,255.33 L408.72,253.85 L408.98,252.37 L409.25,250.88 L409.52,249.40 L409.80,247.92 L410.08,246.44 L410.36,244.96 L410.64,243.48 L410.93,242.00 L411.23,240.52 L411.52,239.04 L411.82,237.56 L412.13,236.08 L412.44,234.60 L412.75,233.12 L413.06,231.64 L413.38,230.16 L413.70,228.69 L414.02,227.21 L414.35,225.73 L414.67,224.25 L415.01,222.78 L415.34,221.30 L415.68,219.82 L416.02,218.35 L416.36,216.87 L416.71,215.40 L417.05,213.93 L417.40,212.45 L417.75,210.98 L418.11,209.51 L418.47,208.04 L418.83,206.57 L419.19,205.10 L419.55,203.63 L419.92,202.17 L420.28,200.70 L420.65,199.24 L421.02,197.77 L421.39,196.31 L421.77,194.85 L422.15,193.39 L422.52,191.93 L422.90,190.47 L423.29,189.01 L423.67,187.56 L424.06,186.10 L424.45,184.65 L424.84,183.20 L425.23,181.75 L425.63,180.30 L426.03,178.85 L426.43,177.40 L426.84,175.96 L427.25,174.52 L427.66,173.07 L428.08,171.63 L428.49,170.20 L428.92,168.76 L429.34,167.32 L429.77,165.89 L430.20,164.46 L430.64,163.03 L431.08,161.60 L431.52,160.17 L431.97,158.75 L432.42,157.33 L432.88,155.91 L433.34,154.49 L433.80,153.07 L434.28,151.66 L434.75,150.24 L435.23,148.83 L435.72,147.42 L436.21,146.02 L436.72,144.61 L437.22,143.21 L437.74,141.81 L438.26,140.42 L438.79,139.02 L439.33,137.63 L439.88,136.24 L440.43,134.85 L441.00,133.47 L441.57,132.08 L442.16,130.70 L442.75,129.32 L443.36,127.95 L443.97,126.58 L444.60,125.21 L445.24,123.84 L445.89,122.48 L446.55,121.11 L447.23,119.75 L447.91,118.40 L448.61,117.04 L449.32,115.69 L450.05,114.35 L450.79,113.01 L451.54,111.67 L452.31,110.34 L453.09,109.02 L453.88,107.70 L454.69,106.40 L455.51,105.10 L456.35,103.81 L457.20,102.54 L458.07,101.27 L458.95,100.02 L459.84,98.78 L460.75,97.56 L461.68,96.35 L462.62,95.15 L463.57,93.98 L464.54,92.81 L465.53,91.67 L466.53,90.54 L467.55,89.44 L468.58,88.35 L469.63,87.29 L470.69,86.24 L471.78,85.22 L472.87,84.22 L473.99,83.25 L475.12,82.30 L476.27,81.37 L477.43,80.48 L478.62,79.60 L479.82,78.76 L481.03,77.94 L482.26,77.15 L483.51,76.39 L484.78,75.66 L486.06,74.94 L487.35,74.26 L488.66,73.60 L489.98,72.97 L491.32,72.36 L492.67,71.77 L494.03,71.21 L495.41,70.67 L496.80,70.15 L498.20,69.66 L499.61,69.19 L501.03,68.74 L502.46,68.31 L503.90,67.91 L505.35,67.52 L506.81,67.15 L508.28,66.81 L509.76,66.48 L511.24,66.18 L512.74,65.89 L514.24,65.62 L515.75,65.37 L517.26,65.13 L518.78,64.91 L520.30,64.72 L521.83,64.53 L523.37,64.36 L524.91,64.21 L526.45,64.08 L528.00,63.96 L529.55,63.85 L531.10,63.77 L532.65,63.69 L534.20,63.64 L535.75,63.60 L537.30,63.57 L538.84,63.56 L540.39,63.57 L541.93,63.59 L543.47,63.63 L545.00,63.69 L546.52,63.76 L548.04,63.85 L549.55,63.95 L551.06,64.07 L552.55,64.21 L554.04,64.36 L555.51,64.53 L556.98,64.71 L558.43,64.91 L559.87,65.14 L561.30,65.39 L562.72,65.67 L564.12,65.99 L565.50,66.36 L566.87,66.76 L568.22,67.22 L569.56,67.74 L570.87,68.31 L572.17,68.95 L573.45,69.66 L574.70,70.42 L575.92,71.24 L577.10,72.12 L578.26,73.05 L579.37,74.03 L580.44,75.06 L581.46,76.14 L582.44,77.27 L583.36,78.44 L584.23,79.65 L585.04,80.90 L585.79,82.18 L586.47,83.50 L587.10,84.86 L587.67,86.24 L588.20,87.65 L588.68,89.09 L589.13,90.55 L589.55,92.04 L589.95,93.54 L590.33,95.06 L590.69,96.60 L591.04,98.15 L591.39,99.71" stroke-width="1.45" stroke-opacity="0.80"/>
<path d="M405.97,277.98 L406.27,276.53 L406.56,275.08 L406.86,273.63 L407.16,272.17 L407.46,270.72 L407.77,269.27 L408.07,267.81 L408.37,266.35 L408.68,264.89 L408.99,263.43 L409.30,261.97 L409.61,260.50 L409.92,259.04 L410.23,257.57 L410.54,256.11 L410.86,254.64 L411.17,253.17 L411.49,251.70 L411.81,250.23 L412.13,248.76 L412.45,247.29 L412.77,245.82 L413.09,244.34 L413.42,242.87 L413.74,241.40 L414.07,239.92 L414.40,238.45 L414.73,236.97 L415.06,235.49 L415.39,234.02 L415.73,232.54 L416.06,231.06 L416.40,229.59 L416.74,228.11 L417.08,226.63 L417.42,225.15 L417.76,223.68 L418.11,222.20 L418.46,220.72 L418.80,219.24 L419.15,217.77 L419.50,216.29 L419.85,214.81 L420.21,213.34 L420.56,211.86 L420.92,210.39 L421.28,208.91 L421.64,207.44 L422.00,205.96 L422.36,204.49 L422.73,203.02 L423.09,201.54 L423.46,200.07 L423.83,198.60 L424.20,197.13 L424.58,195.66 L424.95,194.19 L425.33,192.73 L425.71,191.26 L426.09,189.80 L426.47,188.33 L426.86,186.87 L427.24,185.41 L427.63,183.95 L428.02,182.49 L428.42,181.03 L428.82,179.58 L429.22,178.12 L429.62,176.67 L430.02,175.22 L430.43,173.77 L430.84,172.32 L431.26,170.87 L431.68,169.43 L432.10,167.98 L432.52,166.54 L432.95,165.10 L433.38,163.66 L433.81,162.23 L434.25,160.79 L434.69,159.36 L435.14,157.93 L435.59,156.51 L436.04,155.08 L436.50,153.66 L436.96,152.24 L437.42,150.82 L437.89,149.40 L438.36,147.99 L438.83,146.58 L439.30,145.17 L439.78,143.76 L440.26,142.36 L440.74,140.96 L441.23,139.56 L441.71,138.16 L442.20,136.77 L442.69,135.38 L443.19,133.99 L443.68,132.61 L444.18,131.23 L444.68,129.85 L445.19,128.48 L445.70,127.10 L446.23,125.74 L446.77,124.37 L447.33,123.01 L447.90,121.65 L448.49,120.29 L449.10,118.94 L449.73,117.59 L450.38,116.25 L451.06,114.91 L451.75,113.57 L452.47,112.24 L453.21,110.92 L453.97,109.61 L454.75,108.30 L455.55,107.00 L456.37,105.71 L457.21,104.42 L458.07,103.15 L458.94,101.89 L459.84,100.64 L460.75,99.40 L461.69,98.18 L462.64,96.96 L463.61,95.76 L464.59,94.58 L465.60,93.41 L466.62,92.25 L467.65,91.11 L468.71,89.99 L469.78,88.88 L470.86,87.79 L471.96,86.72 L473.08,85.66 L474.21,84.62 L475.35,83.60 L476.51,82.60 L477.68,81.61 L478.87,80.64 L480.07,79.70 L481.28,78.77 L482.51,77.87 L483.75,76.98 L485.00,76.12 L486.27,75.29 L487.54,74.48 L488.83,73.69 L490.13,72.94 L491.44,72.21 L492.76,71.52 L494.09,70.85 L495.43,70.22 L496.78,69.62 L498.14,69.05 L499.51,68.52 L500.89,68.02 L502.28,67.57 L503.67,67.15 L505.08,66.77 L506.49,66.43 L507.91,66.13 L509.34,65.88 L510.77,65.67 L512.22,65.51 L513.66,65.39 L515.12,65.32 L516.58,65.29 L518.05,65.32 L519.51,65.39 L520.98,65.50 L522.45,65.67 L523.92,65.87 L525.39,66.12 L526.85,66.42 L528.31,66.76 L529.76,67.14 L531.21,67.56 L532.64,68.03 L534.07,68.53 L535.48,69.08 L536.88,69.66 L538.26,70.29 L539.63,70.95 L540.98,71.65 L542.32,72.39 L543.63,73.17 L544.92,73.98 L546.19,74.83 L547.43,75.71 L548.65,76.63 L549.85,77.58 L551.01,78.56 L552.15,79.58 L553.25,80.63 L554.32,81.71 L555.36,82.82 L556.36,83.96 L557.33,85.13 L558.26,86.34 L559.15,87.57 L560.00,88.82 L560.81,90.11 L561.57,91.42 L562.29,92.76 L562.97,94.12 L563.60,95.51 L564.18,96.92" stroke-width="1.45" stroke-opacity="0.80"/>
<path d="M406.10,278.49 L406.41,277.03 L406.72,275.58 L407.04,274.12 L407.35,272.66 L407.67,271.20 L407.98,269.74 L408.30,268.28 L408.62,266.82 L408.94,265.36 L409.26,263.90 L409.58,262.44 L409.90,260.98 L410.22,259.51 L410.55,258.05 L410.87,256.59 L411.20,255.12 L411.52,253.66 L411.85,252.19 L412.18,250.73 L412.51,249.26 L412.84,247.79 L413.17,246.33 L413.50,244.86 L413.83,243.39 L414.17,241.93 L414.50,240.46 L414.84,238.99 L415.18,237.52 L415.51,236.06 L415.85,234.59 L416.19,233.12 L416.53,231.65 L416.88,230.19 L417.22,228.72 L417.56,227.25 L417.91,225.79 L418.25,224.32 L418.60,222.85 L418.95,221.39 L419.30,219.92 L419.65,218.46 L420.00,216.99 L420.36,215.52 L420.71,214.06 L421.07,212.60 L421.42,211.13 L421.78,209.67 L422.14,208.20 L422.50,206.74 L422.86,205.28 L423.22,203.82 L423.58,202.36 L423.95,200.90 L424.32,199.44 L424.68,197.98 L425.05,196.52 L425.43,195.06 L425.80,193.61 L426.17,192.15 L426.55,190.70 L426.93,189.24 L427.31,187.79 L427.69,186.34 L428.08,184.88 L428.46,183.43 L428.85,181.98 L429.25,180.53 L429.64,179.09 L430.04,177.64 L430.44,176.19 L430.84,174.75 L431.25,173.31 L431.66,171.86 L432.07,170.42 L432.48,168.98 L432.90,167.55 L433.32,166.11 L433.74,164.67 L434.17,163.24 L434.60,161.80 L435.03,160.37 L435.47,158.94 L435.91,157.51 L436.36,156.09 L436.81,154.66 L437.26,153.24 L437.71,151.81 L438.18,150.39 L438.64,148.97 L439.11,147.55 L439.58,146.14 L440.06,144.72 L440.54,143.31 L441.02,141.90 L441.52,140.49 L442.01,139.08 L442.51,137.67 L443.01,136.27 L443.52,134.87 L444.04,133.47 L444.56,132.07 L445.08,130.67 L445.62,129.28 L446.16,127.89 L446.71,126.51 L447.27,125.13 L447.84,123.75 L448.42,122.38 L449.02,121.01 L449.62,119.65 L450.25,118.30 L450.88,116.96 L451.54,115.62 L452.21,114.29 L452.90,112.96 L453.61,111.65 L454.33,110.34 L455.08,109.05 L455.85,107.76 L456.63,106.48 L457.44,105.22 L458.26,103.96 L459.11,102.72 L459.97,101.49 L460.85,100.27 L461.76,99.07 L462.68,97.87 L463.62,96.70 L464.59,95.53 L465.57,94.38 L466.58,93.25 L467.60,92.13 L468.64,91.02 L469.70,89.93 L470.78,88.86 L471.88,87.81 L473.00,86.77 L474.13,85.75 L475.28,84.75 L476.45,83.77 L477.63,82.81 L478.83,81.86 L480.05,80.94 L481.28,80.04 L482.52,79.15 L483.78,78.29 L485.06,77.45 L486.34,76.64 L487.65,75.84 L488.96,75.07 L490.29,74.32 L491.63,73.60 L492.98,72.90 L494.34,72.23 L495.71,71.58 L497.09,70.97 L498.48,70.39 L499.87,69.85 L501.28,69.36 L502.68,68.90 L504.09,68.50 L505.50,68.14 L506.92,67.84 L508.33,67.60 L509.74,67.41 L511.15,67.29 L512.56,67.23 L513.96,67.24 L515.36,67.33 L516.75,67.49 L518.14,67.72 L519.51,68.02 L520.88,68.39 L522.24,68.82 L523.58,69.33 L524.91,69.90 L526.23,70.53 L527.53,71.23 L528.82,71.99 L530.09,72.81 L531.34,73.68 L532.57,74.60 L533.79,75.57 L534.99,76.58 L536.17,77.62 L537.32,78.70 L538.46,79.81 L539.58,80.95 L540.68,82.11 L541.75,83.28 L542.81,84.47 L543.84,85.67 L544.84,86.87 L545.82,88.07 L546.78,89.27 L547.72,90.47 L548.62,91.65 L549.51,92.82 L550.36,93.97 L551.19,95.10 L551.99,96.20" stroke-width="1.45" stroke-opacity="0.80"/>
<path d="M406.21,279.00 L406.53,277.53 L406.86,276.05 L407.19,274.58 L407.51,273.10 L407.84,271.63 L408.17,270.15 L408.51,268.68 L408.84,267.21 L409.17,265.73 L409.51,264.26 L409.84,262.79 L410.18,261.32 L410.52,259.85 L410.86,258.38 L411.19,256.91 L411.53,255.44 L411.88,253.98 L412.22,252.51 L412.56,251.04 L412.90,249.58 L413.25,248.11 L413.59,246.64 L413.94,245.18 L414.28,243.71 L414.63,242.25 L414.98,240.79 L415.33,239.32 L415.67,237.86 L416.02,236.40 L416.37,234.94 L416.72,233.48 L417.08,232.02 L417.43,230.56 L417.78,229.10 L418.13,227.64 L418.49,226.18 L418.84,224.72 L419.19,223.26 L419.55,221.80 L419.90,220.35 L420.26,218.89 L420.61,217.43 L420.97,215.98 L421.33,214.52 L421.68,213.07 L422.04,211.61 L422.40,210.16 L422.76,208.70 L423.11,207.25 L423.47,205.79 L423.83,204.34 L424.19,202.89 L424.55,201.44 L424.91,199.98 L425.27,198.53 L425.63,197.08 L426.00,195.63 L426.36,194.18 L426.73,192.73 L427.10,191.28 L427.47,189.83 L427.85,188.38 L428.22,186.93 L428.60,185.48 L428.98,184.03 L429.37,182.58 L429.75,181.13 L430.14,179.69 L430.54,178.24 L430.94,176.79 L431.34,175.34 L431.74,173.90 L432.15,172.45 L432.57,171.00 L432.98,169.56 L433.41,168.11 L433.83,166.66 L434.27,165.22 L434.70,163.77 L435.14,162.33 L435.59,160.88 L436.04,159.44 L436.49,157.99 L436.95,156.55 L437.41,155.10 L437.88,153.66 L438.35,152.22 L438.82,150.77 L439.30,149.33 L439.78,147.88 L440.26,146.44 L440.75,145.00 L441.24,143.55 L441.73,142.11 L442.23,140.67 L442.72,139.23 L443.23,137.78 L443.73,136.34 L444.23,134.90 L444.74,133.46 L445.25,132.01 L445.76,130.57 L446.28,129.14 L446.80,127.70 L447.33,126.27 L447.87,124.84 L448.41,123.41 L448.97,121.99 L449.53,120.58 L450.10,119.17 L450.69,117.77 L451.29,116.38 L451.90,114.99 L452.52,113.61 L453.16,112.25 L453.82,110.89 L454.49,109.54 L455.18,108.21 L455.89,106.89 L456.61,105.59 L457.36,104.30 L458.13,103.03 L458.92,101.78 L459.73,100.55 L460.57,99.34 L461.43,98.15 L462.32,96.98 L463.23,95.84 L464.17,94.72 L465.14,93.63 L466.14,92.56 L467.16,91.52 L468.22,90.52 L469.31,89.54 L470.43,88.59 L471.59,87.68 L472.77,86.80 L473.99,85.96 L475.23,85.15 L476.51,84.37 L477.80,83.63 L479.12,82.93 L480.47,82.27 L481.83,81.64 L483.22,81.05 L484.62,80.50 L486.04,79.99 L487.47,79.53 L488.92,79.10 L490.38,78.72 L491.85,78.38 L493.33,78.08 L494.81,77.82 L496.31,77.61 L497.80,77.43 L499.30,77.30 L500.80,77.22 L502.30,77.17 L503.80,77.17 L505.30,77.20 L506.79,77.28 L508.27,77.40 L509.75,77.57 L511.22,77.77 L512.68,78.01 L514.13,78.30 L515.57,78.62 L517.00,78.98 L518.42,79.37 L519.84,79.81 L521.24,80.27 L522.63,80.78 L524.01,81.31 L525.38,81.88 L526.74,82.48 L528.09,83.12 L529.43,83.78 L530.75,84.47 L532.07,85.20 L533.37,85.95 L534.66,86.72 L535.93,87.53 L537.20,88.36 L538.45,89.22 L539.69,90.10 L540.91,91.00 L542.12,91.93 L543.32,92.87 L544.50,93.84 L545.67,94.83 L546.82,95.84 L547.96,96.87 L549.09,97.92 L550.20,98.98 L551.29,100.06 L552.37,101.15 L553.43,102.26 L554.48,103.39 L555.51,104.52 L556.52,105.67 L557.52,106.83 L558.50,108.01 L559.47,109.19 L560.41,110.38 L561.34,111.58 L562.25,112.79 L563.14,114.00 L564.02,115.22 L564.88,116.44 L565.71,117.67 L566.53,118.91 L567.33,120.14 L568.11,121.38 L568.87,122.62" stroke-width="1.45" stroke-opacity="0.80"/>
<path d="M406.35,279.19 L406.70,277.74 L407.06,276.29 L407.42,274.84 L407.77,273.39 L408.13,271.94 L408.48,270.49 L408.84,269.03 L409.19,267.58 L409.54,266.12 L409.90,264.67 L410.25,263.21 L410.60,261.75 L410.95,260.29 L411.30,258.83 L411.65,257.37 L412.00,255.91 L412.35,254.44 L412.70,252.98 L413.05,251.52 L413.40,250.05 L413.75,248.59 L414.10,247.12 L414.45,245.66 L414.80,244.19 L415.15,242.73 L415.50,241.26 L415.85,239.79 L416.20,238.33 L416.55,236.86 L416.90,235.39 L417.25,233.93 L417.60,232.46 L417.95,230.99 L418.30,229.52 L418.65,228.06 L419.01,226.59 L419.36,225.12 L419.71,223.65 L420.06,222.19 L420.42,220.72 L420.77,219.25 L421.12,217.79 L421.48,216.32 L421.83,214.85 L422.19,213.39 L422.55,211.92 L422.90,210.46 L423.26,208.99 L423.62,207.53 L423.98,206.07 L424.34,204.60 L424.70,203.14 L425.06,201.68 L425.43,200.22 L425.79,198.76 L426.16,197.30 L426.53,195.84 L426.90,194.39 L427.27,192.93 L427.64,191.47 L428.02,190.02 L428.40,188.57 L428.78,187.11 L429.16,185.66 L429.54,184.21 L429.93,182.76 L430.32,181.31 L430.71,179.87 L431.11,178.42 L431.51,176.97 L431.91,175.53 L432.32,174.09 L432.73,172.65 L433.14,171.21 L433.56,169.77 L433.98,168.34 L434.41,166.90 L434.84,165.47 L435.27,164.04 L435.71,162.61 L436.15,161.18 L436.60,159.75 L437.05,158.33 L437.51,156.90 L437.97,155.48 L438.44,154.06 L438.91,152.65 L439.39,151.23 L439.87,149.82 L440.36,148.40 L440.86,146.99 L441.36,145.59 L441.87,144.18 L442.38,142.78 L442.90,141.38 L443.43,139.98 L443.96,138.58 L444.50,137.19 L445.04,135.79 L445.59,134.40 L446.15,133.02 L446.72,131.63 L447.30,130.25 L447.88,128.86 L448.47,127.48 L449.07,126.09 L449.68,124.71 L450.30,123.32 L450.92,121.93 L451.56,120.54 L452.21,119.15 L452.87,117.75 L453.54,116.35 L454.22,114.95 L454.91,113.54 L455.61,112.13 L456.33,110.71 L457.06,109.31 L457.81,107.91 L458.58,106.53 L459.37,105.17 L460.18,103.83 L461.01,102.53 L461.87,101.26 L462.75,100.03 L463.66,98.84 L464.60,97.71 L465.57,96.62 L466.58,95.60 L467.62,94.64 L468.69,93.76 L469.80,92.94 L470.95,92.21 L472.14,91.55 L473.37,90.97 L474.64,90.45 L475.93,90.00 L477.26,89.60 L478.62,89.24 L480.00,88.92 L481.42,88.63 L482.85,88.37 L484.30,88.13 L485.78,87.90 L487.27,87.67 L488.78,87.44 L490.30,87.20 L491.83,86.95 L493.37,86.69 L494.92,86.42 L496.47,86.16 L498.03,85.89 L499.60,85.63 L501.16,85.38 L502.73,85.14 L504.29,84.91 L505.85,84.70 L507.41,84.50 L508.96,84.33 L510.50,84.19 L512.03,84.07 L513.56,83.99 L515.07,83.94 L516.57,83.92 L518.06,83.94 L519.53,83.99 L521.00,84.08 L522.45,84.20 L523.88,84.37 L525.31,84.58 L526.71,84.82 L528.11,85.11 L529.49,85.45 L530.85,85.83 L532.20,86.25 L533.53,86.72 L534.84,87.25 L536.14,87.82 L537.42,88.44 L538.68,89.11 L539.92,89.84 L541.15,90.62 L542.35,91.46 L543.53,92.35 L544.70,93.30 L545.84,94.30 L546.97,95.36 L548.07,96.46 L549.15,97.61 L550.20,98.79 L551.24,100.01 L552.25,101.25 L553.24,102.53 L554.20,103.83 L555.14,105.14 L556.05,106.47 L556.94,107.82 L557.81,109.16 L558.64,110.51 L559.45,111.86 L560.24,113.21 L560.99,114.54 L561.72,115.86 L562.42,117.17 L563.10,118.45 L563.74,119.71 L564.35,120.94 L564.94,122.14 L565.49,123.29" stroke-width="1.45" stroke-opacity="0.80"/>
<path d="M406.47,279.39 L406.88,277.94 L407.28,276.49 L407.67,275.04 L408.06,273.58 L408.45,272.13 L408.84,270.67 L409.23,269.22 L409.61,267.76 L409.99,266.30 L410.36,264.84 L410.74,263.38 L411.11,261.92 L411.48,260.46 L411.85,259.00 L412.21,257.53 L412.57,256.07 L412.94,254.61 L413.30,253.14 L413.65,251.68 L414.01,250.21 L414.37,248.75 L414.72,247.28 L415.07,245.82 L415.43,244.35 L415.78,242.88 L416.13,241.41 L416.48,239.95 L416.83,238.48 L417.17,237.01 L417.52,235.54 L417.87,234.08 L418.21,232.61 L418.56,231.14 L418.91,229.67 L419.25,228.20 L419.60,226.73 L419.95,225.27 L420.29,223.80 L420.64,222.33 L420.99,220.86 L421.34,219.39 L421.69,217.93 L422.04,216.46 L422.39,214.99 L422.74,213.53 L423.09,212.06 L423.44,210.59 L423.80,209.13 L424.16,207.66 L424.51,206.20 L424.87,204.73 L425.23,203.27 L425.60,201.81 L425.96,200.35 L426.33,198.88 L426.70,197.42 L427.07,195.96 L427.44,194.50 L427.82,193.04 L428.19,191.59 L428.58,190.13 L428.96,188.67 L429.34,187.22 L429.73,185.76 L430.12,184.31 L430.52,182.86 L430.92,181.40 L431.32,179.95 L431.72,178.50 L432.13,177.06 L432.54,175.61 L432.96,174.16 L433.38,172.72 L433.80,171.27 L434.23,169.83 L434.66,168.39 L435.09,166.95 L435.53,165.51 L435.97,164.07 L436.42,162.64 L436.87,161.20 L437.33,159.77 L437.79,158.34 L438.26,156.91 L438.73,155.48 L439.21,154.05 L439.69,152.63 L440.18,151.20 L440.67,149.78 L441.17,148.36 L441.67,146.94 L442.18,145.53 L442.69,144.11 L443.21,142.70 L443.74,141.29 L444.27,139.88 L444.81,138.47 L445.35,137.06 L445.90,135.66 L446.46,134.26 L447.02,132.86 L447.60,131.46 L448.18,130.07 L448.77,128.68 L449.37,127.29 L449.98,125.90 L450.60,124.52 L451.23,123.14 L451.88,121.77 L452.54,120.40 L453.22,119.03 L453.91,117.67 L454.62,116.31 L455.34,114.96 L456.08,113.61 L456.84,112.27 L457.62,110.94 L458.42,109.62 L459.24,108.32 L460.09,107.04 L460.95,105.78 L461.84,104.54 L462.76,103.34 L463.70,102.16 L464.67,101.02 L465.67,99.92 L466.70,98.86 L467.75,97.84 L468.84,96.87 L469.96,95.95 L471.11,95.08 L472.29,94.27 L473.51,93.51 L474.77,92.81 L476.05,92.17 L477.37,91.58 L478.71,91.05 L480.08,90.56 L481.48,90.12 L482.89,89.73 L484.33,89.38 L485.79,89.07 L487.26,88.79 L488.75,88.56 L490.25,88.35 L491.76,88.18 L493.28,88.04 L494.81,87.93 L496.34,87.84 L497.88,87.80 L499.42,87.78 L500.95,87.80 L502.49,87.85 L504.02,87.94 L505.55,88.07 L507.06,88.24 L508.57,88.44 L510.07,88.69 L511.55,88.98 L513.02,89.31 L514.47,89.68 L515.90,90.09 L517.32,90.54 L518.73,91.03 L520.12,91.56 L521.49,92.12 L522.86,92.71 L524.21,93.34 L525.54,94.00 L526.87,94.68 L528.18,95.40 L529.48,96.14 L530.77,96.91 L532.05,97.70 L533.31,98.51 L534.57,99.35 L535.82,100.20 L537.06,101.07 L538.28,101.96 L539.50,102.87 L540.71,103.79 L541.92,104.72 L543.11,105.67 L544.30,106.62 L545.48,107.58 L546.65,108.55 L547.82,109.53 L548.99,110.51 L550.14,111.49 L551.29,112.48 L552.44,113.46 L553.58,114.45 L554.72,115.43 L555.86,116.41 L556.99,117.38 L558.12,118.35 L559.25,119.31 L560.37,120.26 L561.49,121.20" stroke-width="1.45" stroke-opacity="0.80"/>
<path d="M406.65,279.40 L407.07,277.95 L407.49,276.50 L407.91,275.06 L408.32,273.61 L408.73,272.16 L409.13,270.71 L409.54,269.26 L409.93,267.81 L410.33,266.36 L410.72,264.90 L411.11,263.45 L411.50,262.00 L411.88,260.54 L412.26,259.09 L412.64,257.63 L413.02,256.17 L413.39,254.72 L413.76,253.26 L414.13,251.80 L414.50,250.34 L414.87,248.89 L415.23,247.43 L415.59,245.97 L415.95,244.51 L416.31,243.05 L416.67,241.59 L417.03,240.13 L417.38,238.67 L417.74,237.21 L418.09,235.74 L418.44,234.28 L418.79,232.82 L419.14,231.36 L419.50,229.90 L419.85,228.44 L420.20,226.98 L420.55,225.52 L420.90,224.05 L421.25,222.59 L421.60,221.13 L421.95,219.67 L422.30,218.21 L422.65,216.75 L423.00,215.29 L423.35,213.83 L423.70,212.37 L424.06,210.91 L424.41,209.45 L424.77,207.99 L425.13,206.53 L425.48,205.07 L425.84,203.62 L426.20,202.16 L426.57,200.70 L426.93,199.25 L427.30,197.79 L427.67,196.33 L428.04,194.88 L428.41,193.43 L428.79,191.97 L429.16,190.52 L429.54,189.07 L429.93,187.61 L430.31,186.16 L430.70,184.71 L431.09,183.27 L431.48,181.82 L431.88,180.37 L432.28,178.92 L432.68,177.48 L433.09,176.03 L433.50,174.59 L433.91,173.14 L434.33,171.70 L434.75,170.26 L435.18,168.82 L435.61,167.38 L436.04,165.95 L436.48,164.51 L436.92,163.07 L437.37,161.64 L437.82,160.21 L438.28,158.77 L438.74,157.34 L439.21,155.91 L439.68,154.49 L440.15,153.06 L440.63,151.64 L441.12,150.21 L441.61,148.79 L442.11,147.37 L442.61,145.95 L443.12,144.53 L443.64,143.11 L444.16,141.70 L444.69,140.29 L445.22,138.88 L445.77,137.47 L446.32,136.06 L446.88,134.66 L447.45,133.26 L448.03,131.86 L448.62,130.47 L449.22,129.08 L449.84,127.69 L450.47,126.31 L451.11,124.93 L451.76,123.56 L452.43,122.19 L453.11,120.83 L453.81,119.47 L454.53,118.12 L455.26,116.77 L456.01,115.44 L456.78,114.12 L457.58,112.81 L458.39,111.53 L459.23,110.27 L460.10,109.03 L460.99,107.82 L461.91,106.64 L462.86,105.50 L463.84,104.39 L464.85,103.32 L465.89,102.29 L466.97,101.31 L468.09,100.38 L469.24,99.49 L470.42,98.65 L471.63,97.86 L472.87,97.11 L474.14,96.40 L475.44,95.75 L476.76,95.13 L478.11,94.56 L479.47,94.04 L480.86,93.55 L482.26,93.11 L483.69,92.72 L485.12,92.36 L486.58,92.04 L488.04,91.77 L489.52,91.54 L491.00,91.34 L492.49,91.19 L493.99,91.07 L495.50,91.00 L497.01,90.96 L498.52,90.96 L500.03,91.00 L501.54,91.07 L503.04,91.18 L504.54,91.33 L506.04,91.51 L507.53,91.73 L509.01,91.98 L510.49,92.27 L511.96,92.58 L513.43,92.93 L514.88,93.31 L516.33,93.72 L517.78,94.15 L519.21,94.62 L520.64,95.11 L522.06,95.63 L523.47,96.17 L524.88,96.74 L526.28,97.33 L527.66,97.95 L529.04,98.58 L530.42,99.24 L531.78,99.92 L533.13,100.61 L534.48,101.33 L535.81,102.06 L537.14,102.81 L538.46,103.57 L539.77,104.35 L541.07,105.15 L542.35,105.96 L543.63,106.77 L544.90,107.61 L546.16,108.45 L547.41,109.30 L548.64,110.16 L549.87,111.03 L551.09,111.90 L552.29,112.79 L553.48,113.67 L554.67,114.56 L555.84,115.46 L557.00,116.36 L558.14,117.26 L559.28,118.16 L560.40,119.06 L561.52,119.96" stroke-width="1.45" stroke-opacity="0.80"/>
<path d="M406.80,279.50 L407.24,278.06 L407.68,276.62 L408.11,275.17 L408.54,273.73 L408.97,272.29 L409.39,270.85 L409.81,269.40 L410.22,267.95 L410.63,266.51 L411.04,265.06 L411.45,263.61 L411.85,262.16 L412.24,260.71 L412.64,259.26 L413.03,257.81 L413.42,256.36 L413.81,254.90 L414.19,253.45 L414.57,252.00 L414.95,250.54 L415.33,249.09 L415.70,247.63 L416.08,246.18 L416.45,244.72 L416.82,243.26 L417.18,241.80 L417.55,240.35 L417.91,238.89 L418.28,237.43 L418.64,235.97 L419.00,234.51 L419.36,233.05 L419.72,231.59 L420.08,230.14 L420.43,228.68 L420.79,227.22 L421.14,225.76 L421.50,224.30 L421.86,222.84 L422.21,221.38 L422.57,219.92 L422.92,218.46 L423.28,217.00 L423.63,215.54 L423.99,214.08 L424.34,212.62 L424.70,211.16 L425.06,209.70 L425.41,208.24 L425.77,206.78 L426.13,205.32 L426.49,203.87 L426.86,202.41 L427.22,200.95 L427.58,199.49 L427.95,198.04 L428.32,196.58 L428.69,195.13 L429.06,193.67 L429.43,192.22 L429.81,190.76 L430.19,189.31 L430.57,187.86 L430.95,186.41 L431.34,184.95 L431.72,183.50 L432.11,182.05 L432.51,180.61 L432.90,179.16 L433.30,177.71 L433.70,176.26 L434.11,174.82 L434.52,173.37 L434.93,171.93 L435.34,170.49 L435.76,169.04 L436.19,167.60 L436.61,166.16 L437.05,164.72 L437.48,163.29 L437.92,161.85 L438.36,160.41 L438.81,158.98 L439.26,157.55 L439.72,156.12 L440.18,154.69 L440.65,153.26 L441.12,151.83 L441.60,150.40 L442.08,148.98 L442.57,147.55 L443.06,146.13 L443.57,144.71 L444.08,143.30 L444.60,141.88 L445.13,140.47 L445.66,139.07 L446.21,137.66 L446.77,136.26 L447.34,134.87 L447.93,133.48 L448.52,132.09 L449.13,130.71 L449.76,129.33 L450.39,127.96 L451.05,126.59 L451.72,125.23 L452.40,123.88 L453.11,122.53 L453.83,121.19 L454.56,119.85 L455.32,118.52 L456.10,117.20 L456.90,115.90 L457.72,114.61 L458.56,113.34 L459.42,112.09 L460.32,110.86 L461.23,109.67 L462.18,108.51 L463.15,107.38 L464.15,106.29 L465.19,105.25 L466.25,104.25 L467.35,103.29 L468.48,102.39 L469.64,101.54 L470.83,100.74 L472.05,99.99 L473.29,99.28 L474.57,98.62 L475.87,98.01 L477.19,97.45 L478.53,96.92 L479.90,96.45 L481.29,96.01 L482.69,95.62 L484.11,95.27 L485.55,94.96 L487.00,94.69 L488.47,94.46 L489.95,94.27 L491.43,94.12 L492.93,94.00 L494.44,93.93 L495.95,93.89 L497.47,93.89 L499.00,93.93 L500.52,94.00 L502.05,94.11 L503.58,94.26 L505.10,94.44 L506.63,94.66 L508.15,94.91 L509.67,95.20 L511.18,95.52 L512.68,95.87 L514.17,96.26 L515.65,96.67 L517.12,97.13 L518.58,97.61 L520.03,98.12 L521.45,98.67 L522.87,99.25 L524.26,99.86 L525.63,100.49 L526.99,101.16 L528.32,101.86 L529.64,102.58 L530.94,103.33 L532.22,104.10 L533.48,104.90 L534.72,105.73 L535.95,106.57 L537.17,107.44 L538.37,108.33 L539.55,109.24 L540.72,110.16 L541.88,111.11 L543.02,112.07 L544.15,113.05 L545.27,114.04 L546.37,115.05 L547.47,116.07 L548.55,117.11 L549.62,118.15 L550.69,119.20" stroke-width="1.45" stroke-opacity="0.80"/>
<path d="M406.97,279.59 L407.44,278.16 L407.90,276.74 L408.36,275.30 L408.82,273.87 L409.27,272.44 L409.71,271.00 L410.15,269.57 L410.59,268.13 L411.02,266.69 L411.45,265.25 L411.87,263.81 L412.29,262.37 L412.70,260.92 L413.11,259.48 L413.51,258.03 L413.92,256.58 L414.31,255.13 L414.71,253.69 L415.10,252.23 L415.49,250.78 L415.87,249.33 L416.26,247.88 L416.64,246.43 L417.01,244.97 L417.39,243.52 L417.76,242.06 L418.13,240.61 L418.50,239.15 L418.86,237.69 L419.23,236.23 L419.59,234.78 L419.95,233.32 L420.31,231.86 L420.67,230.40 L421.02,228.94 L421.38,227.48 L421.74,226.02 L422.09,224.56 L422.44,223.10 L422.80,221.64 L423.15,220.18 L423.50,218.72 L423.85,217.26 L424.21,215.80 L424.56,214.34 L424.91,212.88 L425.26,211.42 L425.62,209.96 L425.97,208.50 L426.33,207.04 L426.68,205.58 L427.04,204.12 L427.40,202.66 L427.76,201.20 L428.12,199.75 L428.48,198.29 L428.85,196.83 L429.21,195.38 L429.58,193.92 L429.95,192.47 L430.33,191.01 L430.70,189.56 L431.08,188.11 L431.46,186.66 L431.84,185.21 L432.23,183.76 L432.62,182.31 L433.01,180.86 L433.41,179.41 L433.81,177.97 L434.21,176.53 L434.62,175.08 L435.03,173.64 L435.44,172.20 L435.86,170.76 L436.29,169.32 L436.71,167.88 L437.15,166.45 L437.58,165.01 L438.03,163.58 L438.47,162.15 L438.92,160.72 L439.38,159.29 L439.84,157.87 L440.31,156.44 L440.78,155.02 L441.26,153.60 L441.75,152.18 L442.24,150.76 L442.74,149.34 L443.24,147.93 L443.75,146.52 L444.27,145.11 L444.80,143.70 L445.34,142.30 L445.89,140.90 L446.45,139.50 L447.01,138.11 L447.59,136.72 L448.18,135.34 L448.79,133.96 L449.40,132.58 L450.03,131.21 L450.68,129.84 L451.34,128.48 L452.01,127.13 L452.70,125.78 L453.40,124.43 L454.12,123.09 L454.86,121.76 L455.62,120.44 L456.39,119.12 L457.19,117.81 L458.00,116.51 L458.83,115.23 L459.69,113.96 L460.58,112.73 L461.48,111.52 L462.42,110.34 L463.38,109.20 L464.38,108.11 L465.40,107.06 L466.46,106.06 L467.56,105.11 L468.68,104.22 L469.85,103.40 L471.04,102.63 L472.27,101.91 L473.53,101.25 L474.82,100.64 L476.14,100.09 L477.48,99.58 L478.84,99.11 L480.23,98.70 L481.64,98.32 L483.07,97.99 L484.52,97.69 L485.98,97.44 L487.46,97.22 L488.95,97.03 L490.45,96.88 L491.96,96.76 L493.48,96.69 L495.01,96.64 L496.54,96.63 L498.08,96.66 L499.62,96.73 L501.15,96.83 L502.69,96.96 L504.22,97.14 L505.74,97.35 L507.26,97.60 L508.77,97.89 L510.27,98.21 L511.76,98.57 L513.23,98.97 L514.69,99.41 L516.14,99.88 L517.56,100.40 L518.96,100.95 L520.34,101.54 L521.70,102.18 L523.03,102.85 L524.34,103.56 L525.62,104.31 L526.86,105.10 L528.08,105.92 L529.28,106.78 L530.45,107.68 L531.59,108.60 L532.72,109.56 L533.82,110.55 L534.89,111.56 L535.95,112.60 L536.99,113.67 L538.02,114.76 L539.02,115.86 L540.01,116.99 L540.99,118.14 L541.95,119.30 L542.90,120.48 L543.83,121.67 L544.76,122.87 L545.68,124.09 L546.59,125.31" stroke-width="1.45" stroke-opacity="0.80"/>
<path d="M408.12,279.69 L408.74,278.32 L409.35,276.94 L409.95,275.56 L410.55,274.18 L411.13,272.79 L411.70,271.40 L412.26,270.01 L412.81,268.61 L413.36,267.21 L413.89,265.81 L414.42,264.41 L414.94,263.00 L415.45,261.59 L415.95,260.18 L416.45,258.76 L416.94,257.34 L417.42,255.92 L417.89,254.50 L418.36,253.07 L418.82,251.64 L419.28,250.21 L419.72,248.78 L420.17,247.35 L420.60,245.91 L421.03,244.47 L421.46,243.03 L421.88,241.59 L422.29,240.15 L422.71,238.70 L423.11,237.25 L423.51,235.81 L423.91,234.36 L424.30,232.91 L424.69,231.46 L425.08,230.00 L425.46,228.55 L425.84,227.09 L426.22,225.64 L426.59,224.18 L426.97,222.72 L427.34,221.26 L427.70,219.81 L428.07,218.35 L428.43,216.89 L428.79,215.43 L429.15,213.97 L429.51,212.50 L429.87,211.04 L430.23,209.58 L430.59,208.12 L430.95,206.66 L431.30,205.20 L431.66,203.74 L432.02,202.28 L432.38,200.82 L432.73,199.36 L433.09,197.90 L433.46,196.44 L433.82,194.98 L434.18,193.53 L434.55,192.07 L434.91,190.61 L435.28,189.16 L435.66,187.71 L436.03,186.25 L436.41,184.80 L436.79,183.35 L437.17,181.90 L437.56,180.46 L437.95,179.01 L438.34,177.57 L438.74,176.12 L439.14,174.68 L439.55,173.24 L439.96,171.81 L440.38,170.37 L440.80,168.94 L441.23,167.51 L441.66,166.08 L442.10,164.65 L442.54,163.22 L442.99,161.80 L443.44,160.38 L443.90,158.96 L444.37,157.55 L444.85,156.14 L445.33,154.73 L445.81,153.32 L446.30,151.91 L446.80,150.50 L447.30,149.09 L447.80,147.69 L448.31,146.28 L448.82,144.87 L449.34,143.47 L449.86,142.06 L450.38,140.65 L450.91,139.24 L451.44,137.83 L451.97,136.42 L452.50,135.00 L453.03,133.59 L453.57,132.17 L454.10,130.75 L454.64,129.32 L455.18,127.89 L455.71,126.46 L456.25,125.02 L456.80,123.59 L457.36,122.17 L457.94,120.75 L458.54,119.35 L459.16,117.96 L459.81,116.60 L460.50,115.25 L461.22,113.94 L461.99,112.65 L462.80,111.40 L463.66,110.19 L464.58,109.02 L465.55,107.89 L466.59,106.81 L467.70,105.79 L468.88,104.82 L470.11,103.91 L471.40,103.07 L472.74,102.29 L474.11,101.59 L475.52,100.97 L476.96,100.43 L478.41,99.98 L479.87,99.63 L481.33,99.37 L482.79,99.21 L484.24,99.16 L485.67,99.22 L487.07,99.40 L488.45,99.69 L489.78,100.09 L491.07,100.61 L492.30,101.23 L493.48,101.96 L494.60,102.79 L495.65,103.71 L496.62,104.73 L497.53,105.83 L498.38,107.01 L499.18,108.25 L499.94,109.54 L500.66,110.89 L501.36,112.27 L502.03,113.68 L502.70,115.10 L503.35,116.54 L504.02,117.98 L504.69,119.41 L505.38,120.83 L506.10,122.21 L506.86,123.56 L507.65,124.86 L508.50,126.11" stroke-width="1.45" stroke-opacity="0.80"/>
<path d="M408.77,279.80 L409.46,278.43 L410.13,277.05 L410.79,275.67 L411.44,274.28 L412.08,272.90 L412.71,271.51 L413.33,270.12 L413.94,268.73 L414.54,267.34 L415.13,265.94 L415.71,264.54 L416.28,263.14 L416.85,261.74 L417.40,260.34 L417.94,258.93 L418.48,257.52 L419.01,256.11 L419.53,254.70 L420.04,253.29 L420.54,251.87 L421.04,250.45 L421.53,249.03 L422.01,247.61 L422.48,246.19 L422.95,244.77 L423.41,243.34 L423.87,241.91 L424.32,240.49 L424.76,239.06 L425.20,237.62 L425.63,236.19 L426.06,234.76 L426.48,233.32 L426.90,231.88 L427.31,230.44 L427.72,229.00 L428.13,227.56 L428.53,226.12 L428.92,224.67 L429.32,223.23 L429.71,221.78 L430.09,220.34 L430.48,218.89 L430.86,217.44 L431.24,215.99 L431.61,214.54 L431.99,213.08 L432.36,211.63 L432.73,210.17 L433.10,208.72 L433.46,207.26 L433.83,205.81 L434.20,204.35 L434.56,202.89 L434.92,201.43 L435.29,199.97 L435.65,198.51 L436.01,197.05 L436.38,195.59 L436.74,194.12 L437.11,192.66 L437.47,191.20 L437.84,189.73 L438.21,188.27 L438.58,186.81 L438.95,185.34 L439.32,183.88 L439.70,182.41 L440.08,180.94 L440.46,179.48 L440.84,178.01 L441.23,176.54 L441.62,175.08 L442.01,173.61 L442.41,172.14 L442.81,170.68 L443.21,169.21 L443.62,167.74 L444.04,166.27 L444.45,164.81 L444.88,163.34 L445.30,161.88 L445.74,160.41 L446.17,158.95 L446.62,157.49 L447.07,156.03 L447.52,154.57 L447.98,153.11 L448.45,151.66 L448.93,150.21 L449.41,148.76 L449.89,147.32 L450.39,145.88 L450.89,144.44 L451.40,143.01 L451.92,141.58 L452.45,140.16 L452.98,138.74 L453.52,137.33 L454.07,135.92 L454.63,134.51 L455.20,133.12 L455.77,131.72 L456.35,130.34 L456.93,128.96 L457.50,127.59 L458.08,126.22 L458.65,124.86 L459.22,123.51 L459.78,122.17 L460.33,120.84 L460.87,119.51 L461.39,118.19 L461.93,116.88 L462.47,115.58 L463.05,114.29 L463.66,113.01 L464.32,111.74 L465.05,110.48 L465.83,109.23 L466.68,108.01 L467.59,106.82 L468.55,105.66 L469.58,104.55 L470.66,103.48 L471.80,102.47 L473.00,101.52 L474.25,100.64 L475.55,99.84 L476.91,99.11 L478.32,98.48 L479.77,97.94 L481.25,97.50 L482.76,97.16 L484.27,96.95 L485.79,96.85 L487.30,96.88 L488.79,97.04 L490.26,97.34 L491.68,97.79 L493.06,98.39 L494.38,99.15 L495.64,100.08 L496.82,101.14 L497.93,102.32 L498.95,103.58 L499.90,104.91 L500.76,106.26 L501.53,107.61 L502.21,108.94 L502.79,110.22" stroke-width="1.45" stroke-opacity="0.80"/>
<path d="M757.12,278.99 L757.31,277.52 L757.51,276.05 L757.72,274.58 L757.93,273.10 L758.16,271.63 L758.39,270.16 L758.63,268.68 L758.88,267.21 L759.14,265.73 L759.41,264.26 L759.68,262.78 L759.96,261.31 L760.25,259.83 L760.54,258.36 L760.84,256.88 L761.14,255.41 L761.46,253.93 L761.77,252.46 L762.10,250.98 L762.43,249.51 L762.76,248.04 L763.10,246.56 L763.44,245.09 L763.79,243.61 L764.14,242.14 L764.49,240.67 L764.85,239.20 L765.21,237.73 L765.57,236.26 L765.94,234.79 L766.31,233.32 L766.68,231.85 L767.06,230.38 L767.43,228.91 L767.81,227.44 L768.19,225.98 L768.57,224.51 L768.95,223.05 L769.33,221.58 L769.71,220.12 L770.09,218.66 L770.48,217.20 L770.86,215.74 L771.24,214.28 L771.62,212.83 L772.00,211.37 L772.37,209.91 L772.75,208.46 L773.12,207.01 L773.50,205.56 L773.87,204.11 L774.23,202.66 L774.60,201.21 L774.96,199.77 L775.32,198.32 L775.67,196.88 L776.03,195.44 L776.38,194.00 L776.73,192.56 L777.08,191.13 L777.43,189.69 L777.79,188.26 L778.14,186.83 L778.50,185.40 L778.87,183.97 L779.24,182.55 L779.62,181.13 L780.00,179.70 L780.39,178.28 L780.79,176.87 L781.20,175.45 L781.62,174.04 L782.05,172.63 L782.50,171.22 L782.96,169.81 L783.43,168.41 L783.91,167.01 L784.41,165.61 L784.93,164.21 L785.46,162.82 L786.02,161.42 L786.59,160.03 L787.18,158.65 L787.79,157.26 L788.42,155.88 L789.07,154.50 L789.73,153.12 L790.41,151.75 L791.10,150.38 L791.80,149.01 L792.52,147.64 L793.25,146.28 L793.98,144.92 L794.73,143.56 L795.48,142.21 L796.24,140.86 L797.01,139.51 L797.77,138.16 L798.55,136.82 L799.32,135.48 L800.10,134.15 L800.89,132.83 L801.68,131.51 L802.48,130.20 L803.28,128.90 L804.10,127.61 L804.93,126.34 L805.76,125.07 L806.61,123.83 L807.48,122.60 L808.35,121.38 L809.24,120.19 L810.15,119.01 L811.07,117.86 L812.02,116.73 L812.98,115.62 L813.95,114.53 L814.95,113.47 L815.97,112.44 L817.02,111.43 L818.08,110.46 L819.17,109.51 L820.28,108.60 L821.42,107.71 L822.59,106.87 L823.78,106.05 L825.00,105.27 L826.24,104.52 L827.51,103.80 L828.79,103.12 L830.10,102.46 L831.43,101.84 L832.78,101.25 L834.14,100.68 L835.53,100.15 L836.92,99.64 L838.34,99.16 L839.76,98.71 L841.20,98.28 L842.66,97.88 L844.12,97.51 L845.59,97.16 L847.07,96.83 L848.56,96.53 L850.05,96.25 L851.55,95.99 L853.06,95.76 L854.57,95.55 L856.09,95.35 L857.61,95.17 L859.13,95.01 L860.66,94.87 L862.18,94.74 L863.72,94.62 L865.25,94.51 L866.79,94.42 L868.32,94.33 L869.86,94.26 L871.40,94.19 L872.94,94.12 L874.47,94.07 L876.01,94.01 L877.54,93.96 L879.08,93.91 L880.61,93.86 L882.14,93.81 L883.66,93.75 L885.19,93.70 L886.71,93.64 L888.22,93.57 L889.73,93.50 L891.23,93.44 L892.73,93.38 L894.23,93.33 L895.72,93.30 L897.20,93.29 L898.67,93.30 L900.14,93.33 L901.59,93.40 L903.05,93.50 L904.49,93.65 L905.92,93.83 L907.34,94.07 L908.75,94.35 L910.14,94.70 L911.50,95.11 L912.84,95.58 L914.15,96.13 L915.42,96.75 L916.66,97.46 L917.84,98.26 L918.98,99.14 L920.07,100.13 L921.09,101.22 L922.06,102.41 L922.96,103.72 L923.78,105.15 L924.54,106.70" stroke-width="1.45" stroke-opacity="0.80"/>
<path d="M757.60,279.49 L757.90,278.04 L758.20,276.59 L758.50,275.13 L758.81,273.68 L759.13,272.22 L759.45,270.76 L759.77,269.30 L760.09,267.84 L760.42,266.38 L760.76,264.91 L761.10,263.45 L761.44,261.99 L761.78,260.52 L762.12,259.05 L762.47,257.59 L762.83,256.12 L763.18,254.65 L763.54,253.19 L763.90,251.72 L764.26,250.25 L764.62,248.78 L764.99,247.31 L765.36,245.85 L765.72,244.38 L766.10,242.91 L766.47,241.44 L766.84,239.97 L767.21,238.50 L767.59,237.03 L767.97,235.56 L768.34,234.10 L768.72,232.63 L769.10,231.16 L769.48,229.69 L769.86,228.23 L770.24,226.76 L770.62,225.30 L770.99,223.83 L771.37,222.37 L771.75,220.91 L772.13,219.44 L772.50,217.98 L772.88,216.52 L773.25,215.06 L773.63,213.61 L774.00,212.15 L774.37,210.69 L774.74,209.24 L775.11,207.78 L775.48,206.33 L775.84,204.88 L776.20,203.43 L776.57,201.98 L776.93,200.54 L777.30,199.09 L777.66,197.65 L778.03,196.21 L778.41,194.77 L778.78,193.33 L779.16,191.89 L779.55,190.46 L779.94,189.03 L780.33,187.60 L780.74,186.17 L781.15,184.74 L781.56,183.32 L781.99,181.90 L782.43,180.48 L782.87,179.06 L783.33,177.65 L783.80,176.24 L784.27,174.83 L784.77,173.42 L785.27,172.02 L785.79,170.61 L786.32,169.22 L786.86,167.82 L787.43,166.43 L788.00,165.04 L788.59,163.65 L789.19,162.26 L789.81,160.88 L790.44,159.51 L791.08,158.13 L791.72,156.76 L792.38,155.39 L793.05,154.02 L793.73,152.66 L794.41,151.30 L795.10,149.95 L795.80,148.60 L796.50,147.25 L797.21,145.91 L797.92,144.57 L798.63,143.23 L799.35,141.90 L800.08,140.57 L800.81,139.25 L801.54,137.93 L802.29,136.61 L803.04,135.31 L803.80,134.00 L804.57,132.71 L805.35,131.42 L806.14,130.13 L806.95,128.86 L807.77,127.59 L808.60,126.33 L809.44,125.07 L810.30,123.83 L811.17,122.59 L812.07,121.36 L812.97,120.15 L813.90,118.95 L814.85,117.77 L815.82,116.62 L816.81,115.48 L817.82,114.37 L818.86,113.29 L819.92,112.25 L821.01,111.23 L822.12,110.25 L823.26,109.31 L824.43,108.41 L825.62,107.54 L826.83,106.71 L828.07,105.91 L829.33,105.14 L830.60,104.41 L831.90,103.71 L833.22,103.04 L834.55,102.40 L835.90,101.79 L837.27,101.22 L838.65,100.67 L840.04,100.15 L841.45,99.65 L842.86,99.18 L844.29,98.74 L845.72,98.33 L847.17,97.93 L848.62,97.57 L850.07,97.22 L851.53,96.90 L853.00,96.60 L854.47,96.32 L855.94,96.07 L857.42,95.83 L858.90,95.62 L860.39,95.43 L861.88,95.26 L863.37,95.10 L864.87,94.97 L866.37,94.86 L867.87,94.77 L869.38,94.70 L870.89,94.64 L872.40,94.61 L873.91,94.59 L875.42,94.59 L876.94,94.61 L878.45,94.65 L879.97,94.70 L881.49,94.78 L883.01,94.86 L884.53,94.97 L886.04,95.09 L887.56,95.23 L889.08,95.38 L890.60,95.55 L892.12,95.73 L893.64,95.91 L895.16,96.11 L896.68,96.31 L898.19,96.51 L899.70,96.72 L901.22,96.92 L902.73,97.13 L904.23,97.33 L905.74,97.52 L907.24,97.71 L908.74,97.88 L910.24,98.03 L911.74,98.16 L913.23,98.27 L914.71,98.35 L916.20,98.41 L917.68,98.42 L919.15,98.40 L920.63,98.34 L922.09,98.24 L923.55,98.09 L925.01,97.88 L926.46,97.63 L927.91,97.32 L929.35,96.94 L930.79,96.50" stroke-width="1.62" stroke-opacity="0.88"/>
<path d="M757.63,279.49 L757.96,278.05 L758.28,276.60 L758.61,275.15 L758.94,273.70 L759.27,272.25 L759.60,270.79 L759.94,269.34 L760.28,267.88 L760.61,266.42 L760.95,264.96 L761.30,263.50 L761.64,262.04 L761.99,260.57 L762.33,259.11 L762.68,257.64 L763.03,256.17 L763.38,254.70 L763.73,253.23 L764.09,251.76 L764.44,250.29 L764.80,248.82 L765.16,247.35 L765.52,245.88 L765.88,244.41 L766.24,242.93 L766.60,241.46 L766.97,239.99 L767.33,238.52 L767.70,237.04 L768.07,235.57 L768.44,234.10 L768.81,232.63 L769.18,231.16 L769.55,229.69 L769.92,228.21 L770.29,226.75 L770.67,225.28 L771.04,223.81 L771.42,222.34 L771.79,220.87 L772.17,219.41 L772.55,217.94 L772.93,216.48 L773.31,215.02 L773.69,213.56 L774.07,212.10 L774.45,210.64 L774.83,209.19 L775.21,207.73 L775.59,206.28 L775.98,204.83 L776.36,203.38 L776.74,201.94 L777.13,200.49 L777.51,199.05 L777.89,197.61 L778.28,196.17 L778.67,194.73 L779.05,193.30 L779.45,191.87 L779.84,190.44 L780.24,189.02 L780.64,187.59 L781.05,186.17 L781.46,184.75 L781.88,183.33 L782.31,181.92 L782.74,180.51 L783.19,179.10 L783.64,177.69 L784.10,176.28 L784.57,174.88 L785.05,173.48 L785.54,172.08 L786.04,170.69 L786.55,169.29 L787.08,167.90 L787.62,166.51 L788.17,165.13 L788.74,163.75 L789.33,162.37 L789.93,160.99 L790.54,159.61 L791.18,158.24 L791.82,156.87 L792.49,155.50 L793.16,154.14 L793.85,152.77 L794.55,151.41 L795.26,150.06 L795.99,148.70 L796.72,147.35 L797.46,146.00 L798.20,144.66 L798.96,143.31 L799.72,141.97 L800.48,140.63 L801.25,139.30 L802.02,137.96 L802.79,136.64 L803.57,135.31 L804.35,133.99 L805.14,132.68 L805.94,131.38 L806.75,130.08 L807.56,128.80 L808.39,127.53 L809.23,126.27 L810.08,125.02 L810.94,123.79 L811.82,122.57 L812.72,121.37 L813.63,120.19 L814.56,119.03 L815.51,117.89 L816.48,116.77 L817.47,115.67 L818.49,114.59 L819.52,113.54 L820.58,112.52 L821.66,111.52 L822.76,110.55 L823.88,109.61 L825.02,108.70 L826.19,107.82 L827.38,106.98 L828.59,106.17 L829.82,105.39 L831.07,104.64 L832.35,103.93 L833.64,103.25 L834.95,102.60 L836.28,101.98 L837.62,101.39 L838.98,100.83 L840.36,100.31 L841.75,99.81 L843.15,99.34 L844.57,98.90 L846.01,98.48 L847.45,98.10 L848.91,97.74 L850.37,97.41 L851.85,97.10 L853.33,96.82 L854.82,96.56 L856.33,96.33 L857.83,96.12 L859.35,95.94 L860.87,95.77 L862.39,95.64 L863.92,95.52 L865.45,95.42 L866.99,95.35 L868.52,95.30 L870.06,95.26 L871.60,95.25 L873.14,95.25 L874.67,95.28 L876.21,95.32 L877.74,95.38 L879.27,95.46 L880.80,95.55 L882.32,95.66 L883.84,95.79 L885.36,95.93 L886.88,96.08 L888.39,96.24 L889.90,96.41 L891.40,96.59 L892.91,96.78 L894.41,96.97 L895.91,97.18 L897.41,97.38 L898.90,97.59 L900.39,97.81 L901.89,98.02 L903.38,98.24 L904.86,98.46 L906.35,98.67 L907.84,98.89 L909.32,99.10 L910.80,99.30 L912.29,99.51 L913.77,99.70 L915.25,99.89 L916.73,100.07 L918.20,100.24 L919.68,100.39 L921.16,100.54 L922.64,100.69 L924.12,100.82 L925.59,100.94 L927.07,101.06 L928.55,101.16 L930.02,101.26 L931.50,101.35 L932.98,101.44 L934.46,101.52 L935.94,101.59 L937.42,101.66 L938.90,101.72 L940.38,101.78 L941.87,101.83 L943.35,101.88 L944.84,101.93 L946.32,101.97 L947.81,102.00 L949.30,102.04 L950.79,102.07 L952.29,102.10 L953.78,102.13 L955.28,102.16 L956.78,102.18 L958.28,102.21 L959.79,102.23 L961.29,102.26 L962.80,102.28 L964.31,102.31 L965.83,102.33 L967.35,102.36 L968.87,102.39 L970.39,102.42 L971.92,102.46 L973.45,102.50 L974.98,102.54 L976.52,102.58 L978.06,102.63 L979.60,102.68 L981.15,102.74 L982.71,102.80" stroke-width="1.54" stroke-opacity="0.84"/>
<path d="M757.71,279.98 L758.10,278.54 L758.50,277.11 L758.89,275.67 L759.28,274.23 L759.66,272.78 L760.05,271.34 L760.43,269.90 L760.81,268.46 L761.19,267.01 L761.57,265.57 L761.95,264.12 L762.33,262.68 L762.70,261.23 L763.08,259.78 L763.45,258.34 L763.82,256.89 L764.20,255.44 L764.57,253.99 L764.93,252.54 L765.30,251.09 L765.67,249.63 L766.04,248.18 L766.40,246.73 L766.77,245.27 L767.13,243.82 L767.50,242.36 L767.86,240.90 L768.22,239.45 L768.58,237.99 L768.95,236.53 L769.31,235.07 L769.67,233.61 L770.03,232.15 L770.39,230.68 L770.75,229.22 L771.11,227.75 L771.48,226.29 L771.84,224.82 L772.20,223.36 L772.56,221.89 L772.92,220.42 L773.28,218.95 L773.64,217.48 L774.01,216.01 L774.37,214.53 L774.73,213.06 L775.09,211.59 L775.46,210.11 L775.82,208.63 L776.19,207.16 L776.55,205.68 L776.92,204.20 L777.29,202.72 L777.66,201.24 L778.04,199.76 L778.42,198.28 L778.80,196.81 L779.18,195.33 L779.57,193.86 L779.97,192.39 L780.37,190.92 L780.78,189.45 L781.19,187.99 L781.61,186.53 L782.04,185.07 L782.48,183.62 L782.92,182.17 L783.38,180.73 L783.84,179.29 L784.31,177.86 L784.80,176.43 L785.29,175.01 L785.80,173.59 L786.31,172.18 L786.84,170.78 L787.39,169.38 L787.94,168.00 L788.51,166.62 L789.09,165.24 L789.69,163.88 L790.31,162.52 L790.93,161.18 L791.58,159.84 L792.24,158.52 L792.92,157.20 L793.61,155.89 L794.33,154.60 L795.06,153.31 L795.81,152.04 L796.58,150.78 L797.37,149.53 L798.18,148.29 L799.01,147.06 L799.86,145.85 L800.73,144.65 L801.61,143.46 L802.52,142.29 L803.44,141.12 L804.38,139.98 L805.34,138.84 L806.32,137.72 L807.31,136.61 L808.32,135.52 L809.35,134.44 L810.39,133.38 L811.45,132.33 L812.52,131.29 L813.61,130.27 L814.72,129.26 L815.83,128.27 L816.97,127.30 L818.12,126.34 L819.28,125.39 L820.45,124.46 L821.64,123.55 L822.84,122.66 L824.05,121.77 L825.28,120.91 L826.52,120.06 L827.76,119.23 L829.03,118.42 L830.30,117.62 L831.58,116.84 L832.87,116.08 L834.18,115.34 L835.49,114.61 L836.81,113.90 L838.15,113.21 L839.49,112.54 L840.84,111.89 L842.20,111.25 L843.56,110.63 L844.94,110.04 L846.32,109.46 L847.71,108.90 L849.11,108.36 L850.51,107.84 L851.92,107.34 L853.33,106.86 L854.76,106.40 L856.18,105.95 L857.62,105.53 L859.05,105.13 L860.50,104.75 L861.94,104.39 L863.40,104.04 L864.85,103.71 L866.32,103.40 L867.78,103.11 L869.25,102.83 L870.73,102.57 L872.20,102.33 L873.69,102.10 L875.17,101.89 L876.66,101.69 L878.15,101.50 L879.65,101.33 L881.15,101.18 L882.65,101.03 L884.15,100.90 L885.66,100.79 L887.17,100.68 L888.68,100.59 L890.19,100.50 L891.70,100.43 L893.22,100.37 L894.74,100.32 L896.26,100.28 L897.78,100.25 L899.30,100.22 L900.83,100.21 L902.35,100.20 L903.88,100.21 L905.40,100.22 L906.93,100.23 L908.45,100.26 L909.98,100.29 L911.51,100.32 L913.03,100.37 L914.56,100.41 L916.08,100.46 L917.61,100.52 L919.13,100.58 L920.65,100.64 L922.18,100.71 L923.70,100.78 L925.22,100.85 L926.73,100.93 L928.25,101.00 L929.76,101.08 L931.28,101.16 L932.79,101.24 L934.30,101.32 L935.80,101.40 L937.30,101.48 L938.80,101.56 L940.30,101.63 L941.80,101.71 L943.29,101.78 L944.77,101.85 L946.26,101.92 L947.74,101.99 L949.22,102.05 L950.69,102.10 L952.16,102.16 L953.62,102.20 L955.08,102.25 L956.54,102.28 L957.99,102.31" stroke-width="1.45" stroke-opacity="0.80"/>
<path d="M757.82,280.00 L758.24,278.55 L758.66,277.09 L759.07,275.64 L759.48,274.18 L759.89,272.72 L760.30,271.27 L760.70,269.81 L761.10,268.36 L761.49,266.90 L761.89,265.45 L762.28,263.99 L762.67,262.54 L763.05,261.08 L763.44,259.63 L763.82,258.18 L764.20,256.72 L764.57,255.27 L764.95,253.81 L765.32,252.36 L765.70,250.90 L766.07,249.45 L766.44,247.99 L766.80,246.54 L767.17,245.08 L767.54,243.63 L767.90,242.17 L768.26,240.72 L768.63,239.26 L768.99,237.81 L769.35,236.35 L769.71,234.90 L770.07,233.44 L770.43,231.98 L770.79,230.53 L771.15,229.07 L771.51,227.61 L771.88,226.16 L772.24,224.70 L772.60,223.24 L772.96,221.79 L773.32,220.33 L773.69,218.87 L774.05,217.41 L774.42,215.95 L774.78,214.49 L775.15,213.03 L775.52,211.57 L775.89,210.11 L776.26,208.65 L776.63,207.19 L777.01,205.73 L777.38,204.27 L777.76,202.81 L778.15,201.35 L778.53,199.89 L778.92,198.43 L779.32,196.97 L779.72,195.52 L780.12,194.06 L780.53,192.61 L780.95,191.16 L781.37,189.71 L781.80,188.26 L782.24,186.82 L782.68,185.38 L783.13,183.94 L783.59,182.51 L784.06,181.08 L784.54,179.65 L785.03,178.23 L785.53,176.81 L786.03,175.40 L786.55,173.99 L787.08,172.58 L787.63,171.19 L788.18,169.79 L788.75,168.41 L789.33,167.02 L789.92,165.65 L790.53,164.28 L791.15,162.92 L791.78,161.56 L792.44,160.21 L793.10,158.87 L793.78,157.54 L794.48,156.21 L795.20,154.89 L795.93,153.58 L796.68,152.28 L797.44,150.99 L798.23,149.71 L799.03,148.43 L799.86,147.17 L800.70,145.91 L801.56,144.67 L802.44,143.43 L803.34,142.21 L804.26,141.00 L805.20,139.80 L806.16,138.61 L807.14,137.44 L808.13,136.28 L809.14,135.14 L810.17,134.02 L811.21,132.91 L812.28,131.82 L813.36,130.75 L814.45,129.70 L815.56,128.67 L816.69,127.66 L817.83,126.67 L818.99,125.70 L820.16,124.76 L821.35,123.84 L822.55,122.94 L823.76,122.07 L824.99,121.23 L826.23,120.41 L827.48,119.62 L828.75,118.86 L830.03,118.13 L831.32,117.42 L832.62,116.74 L833.94,116.09 L835.26,115.47 L836.60,114.87 L837.95,114.29 L839.31,113.74 L840.68,113.21 L842.05,112.71 L843.44,112.23 L844.84,111.77 L846.24,111.34 L847.66,110.92 L849.08,110.53 L850.51,110.16 L851.95,109.80 L853.40,109.47 L854.85,109.15 L856.31,108.86 L857.78,108.58 L859.25,108.31 L860.73,108.07 L862.21,107.84 L863.70,107.62 L865.20,107.43 L866.70,107.24 L868.21,107.07 L869.71,106.92 L871.23,106.77 L872.75,106.64 L874.27,106.52 L875.79,106.42 L877.32,106.33 L878.85,106.25 L880.38,106.18 L881.91,106.12 L883.45,106.07 L884.98,106.04 L886.52,106.01 L888.06,106.00 L889.60,105.99 L891.14,106.00 L892.68,106.02 L894.21,106.04 L895.75,106.08 L897.29,106.12 L898.83,106.18 L900.36,106.24 L901.89,106.31 L903.43,106.39 L904.95,106.48 L906.48,106.57 L908.00,106.68 L909.52,106.79 L911.04,106.91 L912.55,107.03 L914.06,107.17 L915.56,107.32 L917.06,107.47 L918.56,107.64 L920.05,107.83 L921.53,108.03 L923.01,108.25 L924.48,108.49 L925.94,108.74 L927.40,109.02 L928.85,109.32 L930.30,109.64 L931.74,109.98 L933.16,110.36 L934.58,110.76 L936.00,111.19 L937.40,111.66 L938.79,112.15 L940.18,112.68 L941.56,113.25 L942.92,113.85 L944.28,114.50" stroke-width="1.45" stroke-opacity="0.80"/>
<path d="M758.03,280.00 L758.51,278.59 L758.98,277.18 L759.44,275.75 L759.89,274.33 L760.33,272.90 L760.76,271.47 L761.19,270.03 L761.61,268.59 L762.03,267.14 L762.44,265.69 L762.84,264.24 L763.24,262.79 L763.64,261.34 L764.03,259.88 L764.41,258.42 L764.80,256.96 L765.18,255.50 L765.56,254.04 L765.93,252.58 L766.31,251.12 L766.68,249.66 L767.06,248.20 L767.43,246.74 L767.81,245.28 L768.18,243.82 L768.56,242.37 L768.94,240.91 L769.32,239.46 L769.70,238.01 L770.09,236.56 L770.47,235.12 L770.86,233.68 L771.25,232.23 L771.64,230.79 L772.03,229.35 L772.42,227.91 L772.82,226.47 L773.21,225.04 L773.60,223.60 L773.99,222.16 L774.38,220.72 L774.77,219.28 L775.16,217.84 L775.54,216.40 L775.93,214.95 L776.31,213.51 L776.69,212.06 L777.06,210.61 L777.44,209.16 L777.81,207.70 L778.18,206.25 L778.54,204.79 L778.90,203.32 L779.27,201.86 L779.63,200.40 L779.99,198.93 L780.36,197.47 L780.73,196.00 L781.10,194.53 L781.48,193.07 L781.87,191.61 L782.26,190.14 L782.66,188.68 L783.07,187.22 L783.48,185.77 L783.91,184.31 L784.35,182.86 L784.80,181.41 L785.26,179.97 L785.74,178.53 L786.23,177.10 L786.74,175.67 L787.27,174.24 L787.81,172.82 L788.37,171.41 L788.95,170.01 L789.55,168.62 L790.16,167.24 L790.80,165.88 L791.46,164.53 L792.15,163.19 L792.85,161.87 L793.58,160.56 L794.33,159.28 L795.10,158.01 L795.91,156.77 L796.73,155.55 L797.59,154.35 L798.47,153.17 L799.37,152.03 L800.31,150.91 L801.28,149.81 L802.27,148.75 L803.30,147.72 L804.35,146.72 L805.44,145.75 L806.55,144.81 L807.69,143.90 L808.86,143.01 L810.05,142.16 L811.26,141.33 L812.50,140.52 L813.76,139.74 L815.03,138.99 L816.33,138.26 L817.64,137.55 L818.97,136.86 L820.31,136.19 L821.67,135.55 L823.04,134.92 L824.42,134.31 L825.81,133.72 L827.21,133.14 L828.62,132.58 L830.04,132.04 L831.45,131.50 L832.88,130.99 L834.30,130.48 L835.73,129.99 L837.17,129.51 L838.60,129.04 L840.04,128.58 L841.48,128.13 L842.93,127.69 L844.37,127.26 L845.82,126.85 L847.28,126.44 L848.73,126.04 L850.19,125.64 L851.64,125.26 L853.10,124.88 L854.57,124.51 L856.03,124.15 L857.49,123.79 L858.96,123.44 L860.43,123.10 L861.90,122.76 L863.37,122.42 L864.84,122.09 L866.31,121.76 L867.78,121.44 L869.25,121.12 L870.73,120.80 L872.20,120.48 L873.68,120.17 L875.15,119.86 L876.62,119.54 L878.10,119.23 L879.57,118.93 L881.05,118.62 L882.52,118.31 L884.00,118.01 L885.47,117.71 L886.95,117.40 L888.42,117.10 L889.90,116.81 L891.37,116.51 L892.85,116.22 L894.32,115.92 L895.80,115.63 L897.27,115.34 L898.75,115.06 L900.23,114.77 L901.70,114.49 L903.18,114.21 L904.65,113.93 L906.13,113.66 L907.61,113.39 L909.08,113.12 L910.56,112.85 L912.04,112.59 L913.52,112.32 L914.99,112.07 L916.47,111.81 L917.95,111.56 L919.43,111.31 L920.90,111.06 L922.38,110.81 L923.86,110.57 L925.34,110.34 L926.82,110.10 L928.30,109.87 L929.78,109.64 L931.26,109.42 L932.74,109.20 L934.22,108.98 L935.70,108.77 L937.18,108.56 L938.66,108.36 L940.14,108.16 L941.62,107.96 L943.10,107.78 L944.59,107.61 L946.07,107.45 L947.55,107.31 L949.03,107.18 L950.52,107.07 L952.00,106.99 L953.48,106.92 L954.97,106.88 L956.45,106.86 L957.94,106.87 L959.42,106.90 L960.91,106.97 L962.39,107.07 L963.88,107.21 L965.37,107.38 L966.85,107.59 L968.34,107.84 L969.83,108.13 L971.31,108.46" stroke-width="1.45" stroke-opacity="0.80"/>
<path d="M757.93,279.99 L758.52,278.58 L759.08,277.17 L759.60,275.76 L760.10,274.34 L760.56,272.92 L761.00,271.50 L761.42,270.07 L761.82,268.65 L762.19,267.21 L762.55,265.78 L762.90,264.34 L763.23,262.90 L763.56,261.45 L763.87,260.01 L764.18,258.56 L764.49,257.11 L764.80,255.66 L765.10,254.20 L765.41,252.75 L765.73,251.29 L766.05,249.83 L766.39,248.37 L766.74,246.91 L767.09,245.45 L767.46,243.98 L767.84,242.52 L768.23,241.05 L768.63,239.58 L769.03,238.11 L769.44,236.65 L769.86,235.18 L770.28,233.71 L770.70,232.24 L771.13,230.77 L771.55,229.30 L771.98,227.83 L772.41,226.36 L772.84,224.89 L773.26,223.43 L773.68,221.96 L774.10,220.49 L774.51,219.03 L774.92,217.56 L775.32,216.10 L775.71,214.63 L776.10,213.17 L776.48,211.71 L776.85,210.26 L777.22,208.80 L777.59,207.34 L777.95,205.89 L778.31,204.44 L778.67,202.99 L779.03,201.54 L779.39,200.10 L779.75,198.66 L780.11,197.22 L780.47,195.78 L780.84,194.35 L781.21,192.91 L781.59,191.49 L781.98,190.06 L782.37,188.64 L782.76,187.22 L783.17,185.81 L783.59,184.39 L784.01,182.99 L784.45,181.58 L784.90,180.18 L785.36,178.79 L785.83,177.39 L786.32,176.01 L786.82,174.62 L787.34,173.25 L787.88,171.87 L788.43,170.50 L789.00,169.14 L789.59,167.78 L790.20,166.42 L790.83,165.08 L791.49,163.73 L792.16,162.39 L792.86,161.06 L793.58,159.73 L794.33,158.41 L795.10,157.10 L795.89,155.80 L796.70,154.50 L797.53,153.22 L798.39,151.96 L799.26,150.71 L800.14,149.47 L801.05,148.25 L801.96,147.06 L802.90,145.88 L803.84,144.72 L804.81,143.58 L805.79,142.46 L806.78,141.35 L807.79,140.26 L808.82,139.18 L809.86,138.11 L810.92,137.06 L811.99,136.02 L813.08,134.99 L814.19,133.96 L815.32,132.95 L816.46,131.94 L817.62,130.95 L818.80,129.99 L820.00,129.05 L821.22,128.14 L822.46,127.27 L823.72,126.45 L825.00,125.67 L826.31,124.95 L827.63,124.28 L828.98,123.68 L830.35,123.15 L831.74,122.68 L833.14,122.28 L834.55,121.95 L835.98,121.68 L837.41,121.47 L838.85,121.32 L840.29,121.23 L841.74,121.19 L843.20,121.19 L844.66,121.24 L846.13,121.33 L847.60,121.46 L849.08,121.63 L850.56,121.82 L852.04,122.04 L853.53,122.29 L855.02,122.55 L856.51,122.83 L858.00,123.12 L859.50,123.43 L860.99,123.73 L862.49,124.04 L863.99,124.36 L865.49,124.67 L866.99,124.98 L868.49,125.30 L869.98,125.62 L871.48,125.94 L872.97,126.27 L874.46,126.60 L875.95,126.93 L877.44,127.26 L878.93,127.60 L880.41,127.95 L881.88,128.29 L883.36,128.65 L884.82,129.01 L886.29,129.37 L887.74,129.75 L889.20,130.13 L890.64,130.52 L892.08,130.92 L893.52,131.33 L894.94,131.76 L896.36,132.20 L897.77,132.67 L899.17,133.15 L900.57,133.65 L901.95,134.17 L903.33,134.71 L904.69,135.28 L906.05,135.88 L907.39,136.50" stroke-width="1.45" stroke-opacity="0.80"/>
<path d="M758.28,279.99 L758.87,278.61 L759.44,277.23 L759.98,275.84 L760.51,274.44 L761.02,273.05 L761.52,271.64 L762.00,270.24 L762.46,268.83 L762.91,267.41 L763.35,266.00 L763.78,264.57 L764.20,263.15 L764.61,261.72 L765.01,260.29 L765.40,258.85 L765.79,257.41 L766.17,255.97 L766.55,254.53 L766.93,253.08 L767.30,251.64 L767.67,250.19 L768.04,248.73 L768.41,247.28 L768.79,245.82 L769.16,244.36 L769.53,242.90 L769.91,241.44 L770.29,239.98 L770.67,238.51 L771.05,237.05 L771.43,235.58 L771.82,234.11 L772.20,232.65 L772.59,231.18 L772.98,229.71 L773.37,228.24 L773.76,226.77 L774.15,225.30 L774.55,223.83 L774.94,222.37 L775.34,220.90 L775.74,219.43 L776.14,217.96 L776.54,216.50 L776.95,215.03 L777.35,213.57 L777.75,212.10 L778.16,210.64 L778.56,209.18 L778.97,207.72 L779.37,206.27 L779.77,204.81 L780.17,203.36 L780.57,201.91 L780.97,200.46 L781.37,199.01 L781.77,197.57 L782.17,196.13 L782.56,194.69 L782.95,193.26 L783.34,191.82 L783.72,190.39 L784.11,188.97 L784.50,187.55 L784.89,186.13 L785.28,184.71 L785.69,183.30 L786.10,181.90 L786.52,180.49 L786.96,179.10 L787.41,177.70 L787.88,176.31 L788.37,174.93 L788.88,173.55 L789.42,172.17 L789.98,170.81 L790.56,169.44 L791.18,168.08 L791.83,166.73 L792.51,165.38 L793.21,164.04 L793.95,162.72 L794.72,161.40 L795.51,160.09 L796.34,158.80 L797.19,157.53 L798.07,156.27 L798.97,155.03 L799.90,153.81 L800.85,152.60 L801.83,151.42 L802.84,150.27 L803.86,149.14 L804.91,148.03 L805.98,146.96 L807.08,145.91 L808.19,144.89 L809.33,143.90 L810.48,142.95 L811.66,142.03 L812.85,141.15 L814.06,140.30 L815.29,139.49 L816.54,138.72 L817.80,137.98 L819.08,137.28 L820.38,136.61 L821.69,135.97 L823.01,135.37 L824.35,134.79 L825.70,134.25 L827.06,133.73 L828.44,133.25 L829.83,132.79 L831.22,132.36 L832.63,131.95 L834.05,131.57 L835.48,131.21 L836.92,130.87 L838.36,130.56 L839.81,130.27 L841.27,130.00 L842.74,129.74 L844.21,129.51 L845.68,129.29 L847.17,129.09 L848.65,128.91 L850.14,128.74 L851.63,128.59 L853.13,128.45 L854.63,128.32 L856.13,128.20 L857.63,128.09 L859.14,127.98 L860.65,127.89 L862.16,127.80 L863.67,127.72 L865.18,127.63 L866.70,127.56 L868.22,127.48 L869.74,127.40 L871.25,127.32 L872.78,127.24 L874.30,127.16 L875.82,127.07 L877.34,126.98 L878.86,126.87 L880.39,126.76 L881.91,126.65 L883.43,126.52 L884.95,126.38 L886.47,126.23 L888.00,126.08 L889.52,125.91 L891.03,125.75 L892.55,125.58 L894.07,125.41 L895.58,125.24 L897.10,125.07 L898.61,124.90 L900.12,124.74 L901.62,124.58 L903.13,124.43 L904.63,124.28 L906.13,124.14 L907.63,124.02 L909.12,123.91 L910.61,123.80 L912.10,123.72 L913.58,123.65 L915.06,123.60 L916.54,123.58 L918.01,123.57 L919.47,123.60 L920.94,123.66 L922.40,123.75 L923.85,123.87 L925.30,124.03 L926.74,124.23 L928.18,124.47 L929.62,124.76 L931.04,125.10 L932.47,125.48 L933.88,125.92 L935.29,126.42 L936.70,126.97" stroke-width="1.45" stroke-opacity="0.80"/>
<path d="M758.45,279.99 L759.11,278.63 L759.75,277.26 L760.35,275.89 L760.93,274.51 L761.49,273.13 L762.03,271.74 L762.55,270.35 L763.04,268.95 L763.52,267.54 L763.98,266.14 L764.43,264.72 L764.86,263.31 L765.28,261.89 L765.69,260.46 L766.09,259.03 L766.48,257.60 L766.86,256.17 L767.24,254.73 L767.61,253.29 L767.97,251.84 L768.34,250.39 L768.70,248.94 L769.07,247.49 L769.44,246.03 L769.80,244.58 L770.17,243.12 L770.54,241.65 L770.92,240.19 L771.29,238.72 L771.67,237.26 L772.05,235.79 L772.43,234.32 L772.81,232.85 L773.20,231.38 L773.58,229.91 L773.98,228.44 L774.37,226.96 L774.77,225.49 L775.17,224.02 L775.58,222.54 L775.98,221.07 L776.40,219.60 L776.81,218.13 L777.22,216.66 L777.64,215.19 L778.06,213.72 L778.48,212.25 L778.90,210.78 L779.32,209.32 L779.74,207.85 L780.17,206.39 L780.59,204.93 L781.01,203.48 L781.42,202.02 L781.84,200.57 L782.26,199.12 L782.67,197.67 L783.08,196.22 L783.49,194.78 L783.89,193.34 L784.29,191.91 L784.69,190.48 L785.08,189.05 L785.48,187.63 L785.88,186.21 L786.28,184.79 L786.68,183.38 L787.10,181.97 L787.52,180.57 L787.96,179.17 L788.41,177.78 L788.88,176.39 L789.37,175.01 L789.88,173.63 L790.41,172.26 L790.97,170.89 L791.55,169.53 L792.16,168.18 L792.81,166.83 L793.48,165.49 L794.19,164.16 L794.92,162.83 L795.69,161.52 L796.48,160.23 L797.30,158.94 L798.15,157.67 L799.03,156.42 L799.93,155.19 L800.86,153.97 L801.81,152.78 L802.79,151.61 L803.80,150.46 L804.82,149.34 L805.87,148.24 L806.95,147.17 L808.04,146.13 L809.16,145.12 L810.29,144.13 L811.45,143.19 L812.63,142.27 L813.82,141.40 L815.04,140.55 L816.27,139.75 L817.52,138.98 L818.79,138.25 L820.07,137.56 L821.37,136.89 L822.69,136.26 L824.02,135.67 L825.36,135.10 L826.72,134.57 L828.09,134.06 L829.47,133.59 L830.86,133.14 L832.27,132.72 L833.68,132.32 L835.11,131.95 L836.54,131.61 L837.99,131.29 L839.44,130.99 L840.90,130.71 L842.37,130.45 L843.84,130.22 L845.33,130.00 L846.81,129.80 L848.30,129.61 L849.80,129.45 L851.30,129.30 L852.80,129.16 L854.31,129.03 L855.82,128.92 L857.33,128.82 L858.85,128.73 L860.37,128.65 L861.89,128.57 L863.42,128.50 L864.94,128.44 L866.47,128.38 L868.00,128.32 L869.53,128.27 L871.07,128.21 L872.60,128.16 L874.14,128.11 L875.68,128.05 L877.21,127.99 L878.75,127.92 L880.29,127.85 L881.82,127.77 L883.36,127.69 L884.90,127.60 L886.44,127.51 L887.97,127.41 L889.50,127.32 L891.04,127.22 L892.57,127.13 L894.10,127.03 L895.63,126.94 L897.15,126.85 L898.68,126.77 L900.20,126.70 L901.72,126.63 L903.23,126.56 L904.75,126.51 L906.26,126.47 L907.76,126.44 L909.26,126.42 L910.76,126.41 L912.26,126.42 L913.75,126.44 L915.23,126.48 L916.71,126.53 L918.19,126.61 L919.66,126.70 L921.12,126.81 L922.58,126.95 L924.04,127.10 L925.49,127.29 L926.93,127.49 L928.37,127.72 L929.80,127.98 L931.22,128.27 L932.63,128.59 L934.04,128.94 L935.44,129.33 L936.84,129.75 L938.22,130.21 L939.60,130.71 L940.97,131.25 L942.33,131.84 L943.69,132.47 L945.03,133.14 L946.37,133.87 L947.69,134.64 L949.01,135.47" stroke-width="1.45" stroke-opacity="0.80"/>
<path d="M758.70,279.99 L759.50,278.66 L760.26,277.31 L760.97,275.96 L761.65,274.60 L762.28,273.24 L762.87,271.87 L763.44,270.50 L763.97,269.12 L764.47,267.73 L764.95,266.34 L765.40,264.94 L765.83,263.54 L766.24,262.14 L766.64,260.73 L767.02,259.31 L767.39,257.89 L767.75,256.47 L768.11,255.04 L768.46,253.61 L768.82,252.18 L769.17,250.74 L769.53,249.30 L769.90,247.85 L770.27,246.41 L770.65,244.96 L771.04,243.51 L771.43,242.05 L771.83,240.60 L772.24,239.14 L772.64,237.68 L773.05,236.22 L773.47,234.75 L773.88,233.29 L774.30,231.82 L774.71,230.35 L775.12,228.89 L775.54,227.42 L775.95,225.95 L776.35,224.48 L776.76,223.01 L777.16,221.54 L777.55,220.07 L777.95,218.60 L778.34,217.13 L778.73,215.66 L779.12,214.20 L779.51,212.73 L779.90,211.27 L780.29,209.80 L780.68,208.34 L781.07,206.88 L781.46,205.42 L781.86,203.96 L782.26,202.51 L782.66,201.06 L783.06,199.61 L783.48,198.16 L783.89,196.72 L784.31,195.28 L784.74,193.84 L785.18,192.40 L785.62,190.97 L786.07,189.55 L786.53,188.12 L786.99,186.70 L787.47,185.29 L787.95,183.88 L788.45,182.47 L788.96,181.07 L789.47,179.68 L790.00,178.28 L790.55,176.90 L791.10,175.52 L791.67,174.14 L792.25,172.77 L792.85,171.41 L793.46,170.05 L794.08,168.70 L794.73,167.36 L795.39,166.02 L796.06,164.69 L796.76,163.37 L797.48,162.07 L798.21,160.78 L798.97,159.51 L799.76,158.25 L800.56,157.02 L801.40,155.81 L802.25,154.62 L803.14,153.46 L804.06,152.32 L805.00,151.22 L805.98,150.14 L806.99,149.10 L808.03,148.10 L809.11,147.13 L810.22,146.20 L811.37,145.31 L812.56,144.47 L813.78,143.66 L815.04,142.90 L816.32,142.18 L817.64,141.49 L818.99,140.85 L820.36,140.24 L821.76,139.67 L823.18,139.13 L824.61,138.62 L826.07,138.15 L827.53,137.71 L829.01,137.30 L830.51,136.92 L832.00,136.56 L833.51,136.24 L835.02,135.93 L836.53,135.66 L838.04,135.41 L839.55,135.18 L841.06,134.97 L842.57,134.78 L844.08,134.60 L845.59,134.44 L847.09,134.30 L848.60,134.16 L850.10,134.04 L851.61,133.93 L853.11,133.82 L854.61,133.72 L856.11,133.62 L857.62,133.52 L859.12,133.43 L860.62,133.33 L862.11,133.23 L863.61,133.12 L865.11,133.01 L866.61,132.89 L868.10,132.76 L869.60,132.63 L871.09,132.48 L872.59,132.34 L874.08,132.18 L875.57,132.02 L877.06,131.86 L878.55,131.69 L880.04,131.52 L881.53,131.34 L883.02,131.17 L884.51,130.99 L886.00,130.81 L887.49,130.62 L888.98,130.44 L890.46,130.26 L891.95,130.08 L893.43,129.90 L894.92,129.72 L896.40,129.54 L897.88,129.36 L899.37,129.19 L900.85,129.02 L902.33,128.86 L903.81,128.71 L905.29,128.56 L906.77,128.43 L908.25,128.31 L909.73,128.21 L911.21,128.12 L912.69,128.06 L914.17,128.01 L915.64,127.99 L917.12,128.00 L918.60,128.03 L920.07,128.09 L921.55,128.19 L923.02,128.31 L924.50,128.48 L925.97,128.68 L927.45,128.92 L928.92,129.20 L930.39,129.52 L931.86,129.89 L933.34,130.31 L934.81,130.78" stroke-width="1.45" stroke-opacity="0.80"/>

</g>
</g>
</svg>
</body></html>
